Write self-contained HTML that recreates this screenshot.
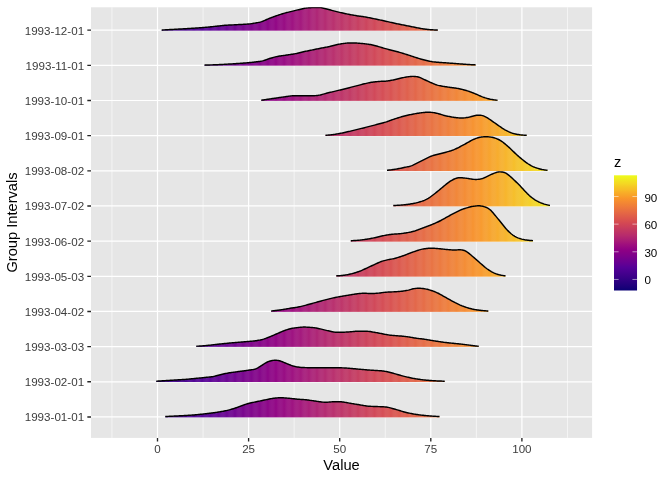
<!DOCTYPE html>
<html lang="en"><head><meta charset="utf-8"><title>Ridgeline plot</title>
<style>html,body{margin:0;padding:0;background:#fff}body{width:672px;height:480px;overflow:hidden}svg{display:block}</style>
</head><body>
<svg width="672" height="480" viewBox="0 0 672 480" font-family="Liberation Sans, Arial, Helvetica, sans-serif">
<defs>
<linearGradient id="gx" gradientUnits="userSpaceOnUse" x1="113.77" y1="0" x2="569.27" y2="0"><stop offset="0.0000" stop-color="#0B0074"/><stop offset="0.0250" stop-color="#180078"/><stop offset="0.0500" stop-color="#22007C"/><stop offset="0.0750" stop-color="#2B0080"/><stop offset="0.1000" stop-color="#340085"/><stop offset="0.1250" stop-color="#3D0089"/><stop offset="0.1500" stop-color="#45008E"/><stop offset="0.1750" stop-color="#4D0093"/><stop offset="0.2000" stop-color="#550097"/><stop offset="0.2250" stop-color="#600094"/><stop offset="0.2500" stop-color="#6A0091"/><stop offset="0.2750" stop-color="#73008D"/><stop offset="0.3000" stop-color="#7D008A"/><stop offset="0.3250" stop-color="#850087"/><stop offset="0.3500" stop-color="#8E0084"/><stop offset="0.3750" stop-color="#960781"/><stop offset="0.4000" stop-color="#9F0F7D"/><stop offset="0.4250" stop-color="#A71978"/><stop offset="0.4500" stop-color="#AE2272"/><stop offset="0.4750" stop-color="#B62A6D"/><stop offset="0.5000" stop-color="#BD3167"/><stop offset="0.5250" stop-color="#C33861"/><stop offset="0.5500" stop-color="#CA3F5B"/><stop offset="0.5750" stop-color="#D14555"/><stop offset="0.6000" stop-color="#D74D50"/><stop offset="0.6250" stop-color="#DC564C"/><stop offset="0.6500" stop-color="#E05F48"/><stop offset="0.6750" stop-color="#E56844"/><stop offset="0.7000" stop-color="#E9713F"/><stop offset="0.7250" stop-color="#EE7A3A"/><stop offset="0.7500" stop-color="#F18335"/><stop offset="0.7750" stop-color="#F58C30"/><stop offset="0.8000" stop-color="#F9952A"/><stop offset="0.8250" stop-color="#F8A229"/><stop offset="0.8500" stop-color="#F8AE28"/><stop offset="0.8750" stop-color="#F7BC26"/><stop offset="0.9000" stop-color="#F5C825"/><stop offset="0.9250" stop-color="#F4D623"/><stop offset="0.9500" stop-color="#F2E221"/><stop offset="0.9750" stop-color="#F0EF1E"/><stop offset="1.0000" stop-color="#EDFC1B"/></linearGradient>
<linearGradient id="gy" gradientUnits="userSpaceOnUse" x1="0" y1="290.5" x2="0" y2="175.3"><stop offset="0.0000" stop-color="#0B0074"/><stop offset="0.0250" stop-color="#180078"/><stop offset="0.0500" stop-color="#22007C"/><stop offset="0.0750" stop-color="#2B0080"/><stop offset="0.1000" stop-color="#340085"/><stop offset="0.1250" stop-color="#3D0089"/><stop offset="0.1500" stop-color="#45008E"/><stop offset="0.1750" stop-color="#4D0093"/><stop offset="0.2000" stop-color="#550097"/><stop offset="0.2250" stop-color="#600094"/><stop offset="0.2500" stop-color="#6A0091"/><stop offset="0.2750" stop-color="#73008D"/><stop offset="0.3000" stop-color="#7D008A"/><stop offset="0.3250" stop-color="#850087"/><stop offset="0.3500" stop-color="#8E0084"/><stop offset="0.3750" stop-color="#960781"/><stop offset="0.4000" stop-color="#9F0F7D"/><stop offset="0.4250" stop-color="#A71978"/><stop offset="0.4500" stop-color="#AE2272"/><stop offset="0.4750" stop-color="#B62A6D"/><stop offset="0.5000" stop-color="#BD3167"/><stop offset="0.5250" stop-color="#C33861"/><stop offset="0.5500" stop-color="#CA3F5B"/><stop offset="0.5750" stop-color="#D14555"/><stop offset="0.6000" stop-color="#D74D50"/><stop offset="0.6250" stop-color="#DC564C"/><stop offset="0.6500" stop-color="#E05F48"/><stop offset="0.6750" stop-color="#E56844"/><stop offset="0.7000" stop-color="#E9713F"/><stop offset="0.7250" stop-color="#EE7A3A"/><stop offset="0.7500" stop-color="#F18335"/><stop offset="0.7750" stop-color="#F58C30"/><stop offset="0.8000" stop-color="#F9952A"/><stop offset="0.8250" stop-color="#F8A229"/><stop offset="0.8500" stop-color="#F8AE28"/><stop offset="0.8750" stop-color="#F7BC26"/><stop offset="0.9000" stop-color="#F5C825"/><stop offset="0.9250" stop-color="#F4D623"/><stop offset="0.9500" stop-color="#F2E221"/><stop offset="0.9750" stop-color="#F0EF1E"/><stop offset="1.0000" stop-color="#EDFC1B"/></linearGradient>
<clipPath id="pc"><rect x="91.0" y="7.3" width="501.10" height="430.60"/></clipPath>
<path id="se" d="M113.772 0h0.8914V480h-0.8914zM115.555 0h0.8914V480h-0.8914zM117.338 0h0.8914V480h-0.8914zM119.120 0h0.8914V480h-0.8914zM120.903 0h0.8914V480h-0.8914zM122.686 0h0.8914V480h-0.8914zM124.469 0h0.8914V480h-0.8914zM126.251 0h0.8914V480h-0.8914zM128.034 0h0.8914V480h-0.8914zM129.817 0h0.8914V480h-0.8914zM131.600 0h0.8914V480h-0.8914zM133.383 0h0.8914V480h-0.8914zM135.165 0h0.8914V480h-0.8914zM136.948 0h0.8914V480h-0.8914zM138.731 0h0.8914V480h-0.8914zM140.514 0h0.8914V480h-0.8914zM142.296 0h0.8914V480h-0.8914zM144.079 0h0.8914V480h-0.8914zM145.862 0h0.8914V480h-0.8914zM147.645 0h0.8914V480h-0.8914zM149.428 0h0.8914V480h-0.8914zM151.210 0h0.8914V480h-0.8914zM152.993 0h0.8914V480h-0.8914zM154.776 0h0.8914V480h-0.8914zM156.559 0h0.8914V480h-0.8914zM158.341 0h0.8914V480h-0.8914zM160.124 0h0.8914V480h-0.8914zM161.907 0h0.8914V480h-0.8914zM163.690 0h0.8914V480h-0.8914zM165.473 0h0.8914V480h-0.8914zM167.255 0h0.8914V480h-0.8914zM169.038 0h0.8914V480h-0.8914zM170.821 0h0.8914V480h-0.8914zM172.604 0h0.8914V480h-0.8914zM174.386 0h0.8914V480h-0.8914zM176.169 0h0.8914V480h-0.8914zM177.952 0h0.8914V480h-0.8914zM179.735 0h0.8914V480h-0.8914zM181.518 0h0.8914V480h-0.8914zM183.300 0h0.8914V480h-0.8914zM185.083 0h0.8914V480h-0.8914zM186.866 0h0.8914V480h-0.8914zM188.649 0h0.8914V480h-0.8914zM190.431 0h0.8914V480h-0.8914zM192.214 0h0.8914V480h-0.8914zM193.997 0h0.8914V480h-0.8914zM195.780 0h0.8914V480h-0.8914zM197.563 0h0.8914V480h-0.8914zM199.345 0h0.8914V480h-0.8914zM201.128 0h0.8914V480h-0.8914zM202.911 0h0.8914V480h-0.8914zM204.694 0h0.8914V480h-0.8914zM206.477 0h0.8914V480h-0.8914zM208.259 0h0.8914V480h-0.8914zM210.042 0h0.8914V480h-0.8914zM211.825 0h0.8914V480h-0.8914zM213.608 0h0.8914V480h-0.8914zM215.390 0h0.8914V480h-0.8914zM217.173 0h0.8914V480h-0.8914zM218.956 0h0.8914V480h-0.8914zM220.739 0h0.8914V480h-0.8914zM222.522 0h0.8914V480h-0.8914zM224.304 0h0.8914V480h-0.8914zM226.087 0h0.8914V480h-0.8914zM227.870 0h0.8914V480h-0.8914zM229.653 0h0.8914V480h-0.8914zM231.435 0h0.8914V480h-0.8914zM233.218 0h0.8914V480h-0.8914zM235.001 0h0.8914V480h-0.8914zM236.784 0h0.8914V480h-0.8914zM238.567 0h0.8914V480h-0.8914zM240.349 0h0.8914V480h-0.8914zM242.132 0h0.8914V480h-0.8914zM243.915 0h0.8914V480h-0.8914zM245.698 0h0.8914V480h-0.8914zM247.480 0h0.8914V480h-0.8914zM249.263 0h0.8914V480h-0.8914zM251.046 0h0.8914V480h-0.8914zM252.829 0h0.8914V480h-0.8914zM254.612 0h0.8914V480h-0.8914zM256.394 0h0.8914V480h-0.8914zM258.177 0h0.8914V480h-0.8914zM259.960 0h0.8914V480h-0.8914zM261.743 0h0.8914V480h-0.8914zM263.525 0h0.8914V480h-0.8914zM265.308 0h0.8914V480h-0.8914zM267.091 0h0.8914V480h-0.8914zM268.874 0h0.8914V480h-0.8914zM270.657 0h0.8914V480h-0.8914zM272.439 0h0.8914V480h-0.8914zM274.222 0h0.8914V480h-0.8914zM276.005 0h0.8914V480h-0.8914zM277.788 0h0.8914V480h-0.8914zM279.570 0h0.8914V480h-0.8914zM281.353 0h0.8914V480h-0.8914zM283.136 0h0.8914V480h-0.8914zM284.919 0h0.8914V480h-0.8914zM286.702 0h0.8914V480h-0.8914zM288.484 0h0.8914V480h-0.8914zM290.267 0h0.8914V480h-0.8914zM292.050 0h0.8914V480h-0.8914zM293.833 0h0.8914V480h-0.8914zM295.615 0h0.8914V480h-0.8914zM297.398 0h0.8914V480h-0.8914zM299.181 0h0.8914V480h-0.8914zM300.964 0h0.8914V480h-0.8914zM302.747 0h0.8914V480h-0.8914zM304.529 0h0.8914V480h-0.8914zM306.312 0h0.8914V480h-0.8914zM308.095 0h0.8914V480h-0.8914zM309.878 0h0.8914V480h-0.8914zM311.660 0h0.8914V480h-0.8914zM313.443 0h0.8914V480h-0.8914zM315.226 0h0.8914V480h-0.8914zM317.009 0h0.8914V480h-0.8914zM318.792 0h0.8914V480h-0.8914zM320.574 0h0.8914V480h-0.8914zM322.357 0h0.8914V480h-0.8914zM324.140 0h0.8914V480h-0.8914zM325.923 0h0.8914V480h-0.8914zM327.705 0h0.8914V480h-0.8914zM329.488 0h0.8914V480h-0.8914zM331.271 0h0.8914V480h-0.8914zM333.054 0h0.8914V480h-0.8914zM334.837 0h0.8914V480h-0.8914zM336.619 0h0.8914V480h-0.8914zM338.402 0h0.8914V480h-0.8914zM340.185 0h0.8914V480h-0.8914zM341.968 0h0.8914V480h-0.8914zM343.750 0h0.8914V480h-0.8914zM345.533 0h0.8914V480h-0.8914zM347.316 0h0.8914V480h-0.8914zM349.099 0h0.8914V480h-0.8914zM350.882 0h0.8914V480h-0.8914zM352.664 0h0.8914V480h-0.8914zM354.447 0h0.8914V480h-0.8914zM356.230 0h0.8914V480h-0.8914zM358.013 0h0.8914V480h-0.8914zM359.795 0h0.8914V480h-0.8914zM361.578 0h0.8914V480h-0.8914zM363.361 0h0.8914V480h-0.8914zM365.144 0h0.8914V480h-0.8914zM366.927 0h0.8914V480h-0.8914zM368.709 0h0.8914V480h-0.8914zM370.492 0h0.8914V480h-0.8914zM372.275 0h0.8914V480h-0.8914zM374.058 0h0.8914V480h-0.8914zM375.840 0h0.8914V480h-0.8914zM377.623 0h0.8914V480h-0.8914zM379.406 0h0.8914V480h-0.8914zM381.189 0h0.8914V480h-0.8914zM382.972 0h0.8914V480h-0.8914zM384.754 0h0.8914V480h-0.8914zM386.537 0h0.8914V480h-0.8914zM388.320 0h0.8914V480h-0.8914zM390.103 0h0.8914V480h-0.8914zM391.886 0h0.8914V480h-0.8914zM393.668 0h0.8914V480h-0.8914zM395.451 0h0.8914V480h-0.8914zM397.234 0h0.8914V480h-0.8914zM399.017 0h0.8914V480h-0.8914zM400.799 0h0.8914V480h-0.8914zM402.582 0h0.8914V480h-0.8914zM404.365 0h0.8914V480h-0.8914zM406.148 0h0.8914V480h-0.8914zM407.931 0h0.8914V480h-0.8914zM409.713 0h0.8914V480h-0.8914zM411.496 0h0.8914V480h-0.8914zM413.279 0h0.8914V480h-0.8914zM415.062 0h0.8914V480h-0.8914zM416.844 0h0.8914V480h-0.8914zM418.627 0h0.8914V480h-0.8914zM420.410 0h0.8914V480h-0.8914zM422.193 0h0.8914V480h-0.8914zM423.976 0h0.8914V480h-0.8914zM425.758 0h0.8914V480h-0.8914zM427.541 0h0.8914V480h-0.8914zM429.324 0h0.8914V480h-0.8914zM431.107 0h0.8914V480h-0.8914zM432.889 0h0.8914V480h-0.8914zM434.672 0h0.8914V480h-0.8914zM436.455 0h0.8914V480h-0.8914zM438.238 0h0.8914V480h-0.8914zM440.021 0h0.8914V480h-0.8914zM441.803 0h0.8914V480h-0.8914zM443.586 0h0.8914V480h-0.8914zM445.369 0h0.8914V480h-0.8914zM447.152 0h0.8914V480h-0.8914zM448.934 0h0.8914V480h-0.8914zM450.717 0h0.8914V480h-0.8914zM452.500 0h0.8914V480h-0.8914zM454.283 0h0.8914V480h-0.8914zM456.066 0h0.8914V480h-0.8914zM457.848 0h0.8914V480h-0.8914zM459.631 0h0.8914V480h-0.8914zM461.414 0h0.8914V480h-0.8914zM463.197 0h0.8914V480h-0.8914zM464.979 0h0.8914V480h-0.8914zM466.762 0h0.8914V480h-0.8914zM468.545 0h0.8914V480h-0.8914zM470.328 0h0.8914V480h-0.8914zM472.111 0h0.8914V480h-0.8914zM473.893 0h0.8914V480h-0.8914zM475.676 0h0.8914V480h-0.8914zM477.459 0h0.8914V480h-0.8914zM479.242 0h0.8914V480h-0.8914zM481.024 0h0.8914V480h-0.8914zM482.807 0h0.8914V480h-0.8914zM484.590 0h0.8914V480h-0.8914zM486.373 0h0.8914V480h-0.8914zM488.156 0h0.8914V480h-0.8914zM489.938 0h0.8914V480h-0.8914zM491.721 0h0.8914V480h-0.8914zM493.504 0h0.8914V480h-0.8914zM495.287 0h0.8914V480h-0.8914zM497.069 0h0.8914V480h-0.8914zM498.852 0h0.8914V480h-0.8914zM500.635 0h0.8914V480h-0.8914zM502.418 0h0.8914V480h-0.8914zM504.201 0h0.8914V480h-0.8914zM505.983 0h0.8914V480h-0.8914zM507.766 0h0.8914V480h-0.8914zM509.549 0h0.8914V480h-0.8914zM511.332 0h0.8914V480h-0.8914zM513.114 0h0.8914V480h-0.8914zM514.897 0h0.8914V480h-0.8914zM516.680 0h0.8914V480h-0.8914zM518.463 0h0.8914V480h-0.8914zM520.246 0h0.8914V480h-0.8914zM522.028 0h0.8914V480h-0.8914zM523.811 0h0.8914V480h-0.8914zM525.594 0h0.8914V480h-0.8914zM527.377 0h0.8914V480h-0.8914zM529.159 0h0.8914V480h-0.8914zM530.942 0h0.8914V480h-0.8914zM532.725 0h0.8914V480h-0.8914zM534.508 0h0.8914V480h-0.8914zM536.291 0h0.8914V480h-0.8914zM538.073 0h0.8914V480h-0.8914zM539.856 0h0.8914V480h-0.8914zM541.639 0h0.8914V480h-0.8914zM543.422 0h0.8914V480h-0.8914zM545.204 0h0.8914V480h-0.8914zM546.987 0h0.8914V480h-0.8914zM548.770 0h0.8914V480h-0.8914zM550.553 0h0.8914V480h-0.8914zM552.336 0h0.8914V480h-0.8914zM554.118 0h0.8914V480h-0.8914zM555.901 0h0.8914V480h-0.8914zM557.684 0h0.8914V480h-0.8914zM559.467 0h0.8914V480h-0.8914zM561.249 0h0.8914V480h-0.8914zM563.032 0h0.8914V480h-0.8914zM564.815 0h0.8914V480h-0.8914zM566.598 0h0.8914V480h-0.8914zM568.381 0h0.8914V480h-0.8914z"/>
<path id="so" d="M114.663 0h0.8914V480h-0.8914zM116.446 0h0.8914V480h-0.8914zM118.229 0h0.8914V480h-0.8914zM120.012 0h0.8914V480h-0.8914zM121.795 0h0.8914V480h-0.8914zM123.577 0h0.8914V480h-0.8914zM125.360 0h0.8914V480h-0.8914zM127.143 0h0.8914V480h-0.8914zM128.926 0h0.8914V480h-0.8914zM130.708 0h0.8914V480h-0.8914zM132.491 0h0.8914V480h-0.8914zM134.274 0h0.8914V480h-0.8914zM136.057 0h0.8914V480h-0.8914zM137.840 0h0.8914V480h-0.8914zM139.622 0h0.8914V480h-0.8914zM141.405 0h0.8914V480h-0.8914zM143.188 0h0.8914V480h-0.8914zM144.971 0h0.8914V480h-0.8914zM146.753 0h0.8914V480h-0.8914zM148.536 0h0.8914V480h-0.8914zM150.319 0h0.8914V480h-0.8914zM152.102 0h0.8914V480h-0.8914zM153.885 0h0.8914V480h-0.8914zM155.667 0h0.8914V480h-0.8914zM157.450 0h0.8914V480h-0.8914zM159.233 0h0.8914V480h-0.8914zM161.016 0h0.8914V480h-0.8914zM162.798 0h0.8914V480h-0.8914zM164.581 0h0.8914V480h-0.8914zM166.364 0h0.8914V480h-0.8914zM168.147 0h0.8914V480h-0.8914zM169.930 0h0.8914V480h-0.8914zM171.712 0h0.8914V480h-0.8914zM173.495 0h0.8914V480h-0.8914zM175.278 0h0.8914V480h-0.8914zM177.061 0h0.8914V480h-0.8914zM178.843 0h0.8914V480h-0.8914zM180.626 0h0.8914V480h-0.8914zM182.409 0h0.8914V480h-0.8914zM184.192 0h0.8914V480h-0.8914zM185.975 0h0.8914V480h-0.8914zM187.757 0h0.8914V480h-0.8914zM189.540 0h0.8914V480h-0.8914zM191.323 0h0.8914V480h-0.8914zM193.106 0h0.8914V480h-0.8914zM194.888 0h0.8914V480h-0.8914zM196.671 0h0.8914V480h-0.8914zM198.454 0h0.8914V480h-0.8914zM200.237 0h0.8914V480h-0.8914zM202.020 0h0.8914V480h-0.8914zM203.802 0h0.8914V480h-0.8914zM205.585 0h0.8914V480h-0.8914zM207.368 0h0.8914V480h-0.8914zM209.151 0h0.8914V480h-0.8914zM210.933 0h0.8914V480h-0.8914zM212.716 0h0.8914V480h-0.8914zM214.499 0h0.8914V480h-0.8914zM216.282 0h0.8914V480h-0.8914zM218.065 0h0.8914V480h-0.8914zM219.847 0h0.8914V480h-0.8914zM221.630 0h0.8914V480h-0.8914zM223.413 0h0.8914V480h-0.8914zM225.196 0h0.8914V480h-0.8914zM226.978 0h0.8914V480h-0.8914zM228.761 0h0.8914V480h-0.8914zM230.544 0h0.8914V480h-0.8914zM232.327 0h0.8914V480h-0.8914zM234.110 0h0.8914V480h-0.8914zM235.892 0h0.8914V480h-0.8914zM237.675 0h0.8914V480h-0.8914zM239.458 0h0.8914V480h-0.8914zM241.241 0h0.8914V480h-0.8914zM243.023 0h0.8914V480h-0.8914zM244.806 0h0.8914V480h-0.8914zM246.589 0h0.8914V480h-0.8914zM248.372 0h0.8914V480h-0.8914zM250.155 0h0.8914V480h-0.8914zM251.937 0h0.8914V480h-0.8914zM253.720 0h0.8914V480h-0.8914zM255.503 0h0.8914V480h-0.8914zM257.286 0h0.8914V480h-0.8914zM259.068 0h0.8914V480h-0.8914zM260.851 0h0.8914V480h-0.8914zM262.634 0h0.8914V480h-0.8914zM264.417 0h0.8914V480h-0.8914zM266.200 0h0.8914V480h-0.8914zM267.982 0h0.8914V480h-0.8914zM269.765 0h0.8914V480h-0.8914zM271.548 0h0.8914V480h-0.8914zM273.331 0h0.8914V480h-0.8914zM275.113 0h0.8914V480h-0.8914zM276.896 0h0.8914V480h-0.8914zM278.679 0h0.8914V480h-0.8914zM280.462 0h0.8914V480h-0.8914zM282.245 0h0.8914V480h-0.8914zM284.027 0h0.8914V480h-0.8914zM285.810 0h0.8914V480h-0.8914zM287.593 0h0.8914V480h-0.8914zM289.376 0h0.8914V480h-0.8914zM291.158 0h0.8914V480h-0.8914zM292.941 0h0.8914V480h-0.8914zM294.724 0h0.8914V480h-0.8914zM296.507 0h0.8914V480h-0.8914zM298.290 0h0.8914V480h-0.8914zM300.072 0h0.8914V480h-0.8914zM301.855 0h0.8914V480h-0.8914zM303.638 0h0.8914V480h-0.8914zM305.421 0h0.8914V480h-0.8914zM307.204 0h0.8914V480h-0.8914zM308.986 0h0.8914V480h-0.8914zM310.769 0h0.8914V480h-0.8914zM312.552 0h0.8914V480h-0.8914zM314.335 0h0.8914V480h-0.8914zM316.117 0h0.8914V480h-0.8914zM317.900 0h0.8914V480h-0.8914zM319.683 0h0.8914V480h-0.8914zM321.466 0h0.8914V480h-0.8914zM323.249 0h0.8914V480h-0.8914zM325.031 0h0.8914V480h-0.8914zM326.814 0h0.8914V480h-0.8914zM328.597 0h0.8914V480h-0.8914zM330.380 0h0.8914V480h-0.8914zM332.162 0h0.8914V480h-0.8914zM333.945 0h0.8914V480h-0.8914zM335.728 0h0.8914V480h-0.8914zM337.511 0h0.8914V480h-0.8914zM339.294 0h0.8914V480h-0.8914zM341.076 0h0.8914V480h-0.8914zM342.859 0h0.8914V480h-0.8914zM344.642 0h0.8914V480h-0.8914zM346.425 0h0.8914V480h-0.8914zM348.207 0h0.8914V480h-0.8914zM349.990 0h0.8914V480h-0.8914zM351.773 0h0.8914V480h-0.8914zM353.556 0h0.8914V480h-0.8914zM355.339 0h0.8914V480h-0.8914zM357.121 0h0.8914V480h-0.8914zM358.904 0h0.8914V480h-0.8914zM360.687 0h0.8914V480h-0.8914zM362.470 0h0.8914V480h-0.8914zM364.252 0h0.8914V480h-0.8914zM366.035 0h0.8914V480h-0.8914zM367.818 0h0.8914V480h-0.8914zM369.601 0h0.8914V480h-0.8914zM371.384 0h0.8914V480h-0.8914zM373.166 0h0.8914V480h-0.8914zM374.949 0h0.8914V480h-0.8914zM376.732 0h0.8914V480h-0.8914zM378.515 0h0.8914V480h-0.8914zM380.297 0h0.8914V480h-0.8914zM382.080 0h0.8914V480h-0.8914zM383.863 0h0.8914V480h-0.8914zM385.646 0h0.8914V480h-0.8914zM387.429 0h0.8914V480h-0.8914zM389.211 0h0.8914V480h-0.8914zM390.994 0h0.8914V480h-0.8914zM392.777 0h0.8914V480h-0.8914zM394.560 0h0.8914V480h-0.8914zM396.342 0h0.8914V480h-0.8914zM398.125 0h0.8914V480h-0.8914zM399.908 0h0.8914V480h-0.8914zM401.691 0h0.8914V480h-0.8914zM403.474 0h0.8914V480h-0.8914zM405.256 0h0.8914V480h-0.8914zM407.039 0h0.8914V480h-0.8914zM408.822 0h0.8914V480h-0.8914zM410.605 0h0.8914V480h-0.8914zM412.387 0h0.8914V480h-0.8914zM414.170 0h0.8914V480h-0.8914zM415.953 0h0.8914V480h-0.8914zM417.736 0h0.8914V480h-0.8914zM419.519 0h0.8914V480h-0.8914zM421.301 0h0.8914V480h-0.8914zM423.084 0h0.8914V480h-0.8914zM424.867 0h0.8914V480h-0.8914zM426.650 0h0.8914V480h-0.8914zM428.432 0h0.8914V480h-0.8914zM430.215 0h0.8914V480h-0.8914zM431.998 0h0.8914V480h-0.8914zM433.781 0h0.8914V480h-0.8914zM435.564 0h0.8914V480h-0.8914zM437.346 0h0.8914V480h-0.8914zM439.129 0h0.8914V480h-0.8914zM440.912 0h0.8914V480h-0.8914zM442.695 0h0.8914V480h-0.8914zM444.477 0h0.8914V480h-0.8914zM446.260 0h0.8914V480h-0.8914zM448.043 0h0.8914V480h-0.8914zM449.826 0h0.8914V480h-0.8914zM451.609 0h0.8914V480h-0.8914zM453.391 0h0.8914V480h-0.8914zM455.174 0h0.8914V480h-0.8914zM456.957 0h0.8914V480h-0.8914zM458.740 0h0.8914V480h-0.8914zM460.522 0h0.8914V480h-0.8914zM462.305 0h0.8914V480h-0.8914zM464.088 0h0.8914V480h-0.8914zM465.871 0h0.8914V480h-0.8914zM467.654 0h0.8914V480h-0.8914zM469.436 0h0.8914V480h-0.8914zM471.219 0h0.8914V480h-0.8914zM473.002 0h0.8914V480h-0.8914zM474.785 0h0.8914V480h-0.8914zM476.567 0h0.8914V480h-0.8914zM478.350 0h0.8914V480h-0.8914zM480.133 0h0.8914V480h-0.8914zM481.916 0h0.8914V480h-0.8914zM483.699 0h0.8914V480h-0.8914zM485.481 0h0.8914V480h-0.8914zM487.264 0h0.8914V480h-0.8914zM489.047 0h0.8914V480h-0.8914zM490.830 0h0.8914V480h-0.8914zM492.613 0h0.8914V480h-0.8914zM494.395 0h0.8914V480h-0.8914zM496.178 0h0.8914V480h-0.8914zM497.961 0h0.8914V480h-0.8914zM499.744 0h0.8914V480h-0.8914zM501.526 0h0.8914V480h-0.8914zM503.309 0h0.8914V480h-0.8914zM505.092 0h0.8914V480h-0.8914zM506.875 0h0.8914V480h-0.8914zM508.658 0h0.8914V480h-0.8914zM510.440 0h0.8914V480h-0.8914zM512.223 0h0.8914V480h-0.8914zM514.006 0h0.8914V480h-0.8914zM515.789 0h0.8914V480h-0.8914zM517.571 0h0.8914V480h-0.8914zM519.354 0h0.8914V480h-0.8914zM521.137 0h0.8914V480h-0.8914zM522.920 0h0.8914V480h-0.8914zM524.703 0h0.8914V480h-0.8914zM526.485 0h0.8914V480h-0.8914zM528.268 0h0.8914V480h-0.8914zM530.051 0h0.8914V480h-0.8914zM531.834 0h0.8914V480h-0.8914zM533.616 0h0.8914V480h-0.8914zM535.399 0h0.8914V480h-0.8914zM537.182 0h0.8914V480h-0.8914zM538.965 0h0.8914V480h-0.8914zM540.748 0h0.8914V480h-0.8914zM542.530 0h0.8914V480h-0.8914zM544.313 0h0.8914V480h-0.8914zM546.096 0h0.8914V480h-0.8914zM547.879 0h0.8914V480h-0.8914zM549.661 0h0.8914V480h-0.8914zM551.444 0h0.8914V480h-0.8914zM553.227 0h0.8914V480h-0.8914zM555.010 0h0.8914V480h-0.8914zM556.793 0h0.8914V480h-0.8914zM558.575 0h0.8914V480h-0.8914zM560.358 0h0.8914V480h-0.8914zM562.141 0h0.8914V480h-0.8914zM563.924 0h0.8914V480h-0.8914zM565.706 0h0.8914V480h-0.8914zM567.489 0h0.8914V480h-0.8914z"/>
<clipPath id="c0"><path d="M161.7 30.00L162.7 29.95L163.7 29.90L164.7 29.85L165.7 29.80L166.7 29.75L167.7 29.70L168.7 29.64L169.7 29.59L170.7 29.54L171.7 29.48L172.7 29.43L173.7 29.37L174.7 29.32L175.7 29.26L176.7 29.20L177.7 29.15L178.7 29.09L179.7 29.03L180.7 28.97L181.7 28.91L182.7 28.85L183.7 28.79L184.7 28.73L185.7 28.67L186.7 28.61L187.7 28.55L188.7 28.49L189.7 28.42L190.7 28.36L191.7 28.30L192.7 28.24L193.7 28.18L194.7 28.11L195.7 28.05L196.7 27.98L197.7 27.91L198.7 27.85L199.7 27.78L200.7 27.70L201.7 27.63L202.7 27.55L203.7 27.47L204.7 27.38L205.7 27.29L206.7 27.20L207.7 27.11L208.7 27.01L209.7 26.91L210.7 26.81L211.7 26.71L212.7 26.61L213.7 26.51L214.7 26.40L215.7 26.30L216.7 26.20L217.7 26.09L218.7 25.98L219.7 25.86L220.7 25.74L221.7 25.63L222.7 25.51L223.7 25.41L224.7 25.32L225.7 25.25L226.7 25.18L227.7 25.12L228.7 25.07L229.7 25.02L230.7 24.98L231.7 24.93L232.7 24.89L233.7 24.85L234.7 24.80L235.7 24.75L236.7 24.70L237.7 24.64L238.7 24.59L239.7 24.53L240.7 24.47L241.7 24.42L242.7 24.36L243.7 24.29L244.7 24.23L245.7 24.17L246.7 24.11L247.7 24.04L248.7 23.97L249.7 23.88L250.7 23.77L251.7 23.63L252.7 23.48L253.7 23.32L254.7 23.15L255.7 22.98L256.7 22.80L257.7 22.62L258.7 22.41L259.7 22.18L260.7 21.92L261.7 21.60L262.7 21.24L263.7 20.84L264.7 20.42L265.7 19.97L266.7 19.52L267.7 19.07L268.7 18.64L269.7 18.23L270.7 17.85L271.7 17.48L272.7 17.11L273.7 16.74L274.7 16.38L275.7 16.02L276.7 15.68L277.7 15.33L278.7 15.00L279.7 14.67L280.7 14.35L281.7 14.02L282.7 13.71L283.7 13.40L284.7 13.11L285.7 12.83L286.7 12.57L287.7 12.33L288.7 12.09L289.7 11.85L290.7 11.60L291.7 11.36L292.7 11.12L293.7 10.88L294.7 10.64L295.7 10.40L296.7 10.16L297.7 9.92L298.7 9.68L299.7 9.45L300.7 9.21L301.7 8.97L302.7 8.73L303.7 8.50L304.7 8.29L305.7 8.13L306.7 8.00L307.7 7.90L308.7 7.82L309.7 7.74L310.7 7.67L311.7 7.61L312.7 7.57L313.7 7.53L314.7 7.51L315.7 7.49L316.7 7.47L317.7 7.45L318.7 7.46L319.7 7.50L320.7 7.59L321.7 7.74L322.7 7.96L323.7 8.19L324.7 8.44L325.7 8.70L326.7 8.96L327.7 9.23L328.7 9.50L329.7 9.77L330.7 10.05L331.7 10.33L332.7 10.60L333.7 10.88L334.7 11.14L335.7 11.40L336.7 11.65L337.7 11.90L338.7 12.13L339.7 12.36L340.7 12.59L341.7 12.82L342.7 13.04L343.7 13.26L344.7 13.47L345.7 13.68L346.7 13.89L347.7 14.10L348.7 14.30L349.7 14.50L350.7 14.69L351.7 14.88L352.7 15.06L353.7 15.24L354.7 15.41L355.7 15.58L356.7 15.75L357.7 15.91L358.7 16.06L359.7 16.20L360.7 16.33L361.7 16.46L362.7 16.59L363.7 16.74L364.7 16.90L365.7 17.07L366.7 17.25L367.7 17.44L368.7 17.63L369.7 17.82L370.7 18.02L371.7 18.22L372.7 18.43L373.7 18.64L374.7 18.85L375.7 19.06L376.7 19.27L377.7 19.48L378.7 19.69L379.7 19.91L380.7 20.12L381.7 20.33L382.7 20.55L383.7 20.77L384.7 20.98L385.7 21.20L386.7 21.42L387.7 21.65L388.7 21.88L389.7 22.11L390.7 22.34L391.7 22.57L392.7 22.80L393.7 23.03L394.7 23.25L395.7 23.47L396.7 23.68L397.7 23.88L398.7 24.08L399.7 24.28L400.7 24.48L401.7 24.68L402.7 24.88L403.7 25.08L404.7 25.28L405.7 25.48L406.7 25.68L407.7 25.88L408.7 26.08L409.7 26.28L410.7 26.48L411.7 26.68L412.7 26.88L413.7 27.08L414.7 27.28L415.7 27.48L416.7 27.68L417.7 27.88L418.7 28.07L419.7 28.25L420.7 28.43L421.7 28.60L422.7 28.76L423.7 28.91L424.7 29.06L425.7 29.20L426.7 29.33L427.7 29.44L428.7 29.54L429.7 29.62L430.7 29.70L431.7 29.76L432.7 29.82L433.7 29.88L434.7 29.92L435.7 29.96L436.7 29.98L437.7 30.00L437.8 30.00L437.8 30.40L161.7 30.40Z"/></clipPath>
<clipPath id="c1"><path d="M204.5 65.00L205.5 64.99L206.5 64.98L207.5 64.96L208.5 64.94L209.5 64.92L210.5 64.90L211.5 64.88L212.5 64.85L213.5 64.82L214.5 64.79L215.5 64.75L216.5 64.71L217.5 64.67L218.5 64.62L219.5 64.57L220.5 64.53L221.5 64.48L222.5 64.43L223.5 64.37L224.5 64.32L225.5 64.27L226.5 64.21L227.5 64.15L228.5 64.09L229.5 64.03L230.5 63.97L231.5 63.91L232.5 63.85L233.5 63.79L234.5 63.72L235.5 63.66L236.5 63.59L237.5 63.52L238.5 63.45L239.5 63.38L240.5 63.31L241.5 63.24L242.5 63.16L243.5 63.09L244.5 63.01L245.5 62.93L246.5 62.85L247.5 62.77L248.5 62.68L249.5 62.59L250.5 62.50L251.5 62.39L252.5 62.28L253.5 62.17L254.5 62.05L255.5 61.94L256.5 61.82L257.5 61.71L258.5 61.58L259.5 61.44L260.5 61.29L261.5 61.10L262.5 60.88L263.5 60.61L264.5 60.30L265.5 59.95L266.5 59.59L267.5 59.22L268.5 58.87L269.5 58.54L270.5 58.24L271.5 57.96L272.5 57.68L273.5 57.40L274.5 57.12L275.5 56.87L276.5 56.63L277.5 56.42L278.5 56.23L279.5 56.08L280.5 55.93L281.5 55.78L282.5 55.64L283.5 55.50L284.5 55.36L285.5 55.22L286.5 55.07L287.5 54.92L288.5 54.78L289.5 54.63L290.5 54.48L291.5 54.32L292.5 54.17L293.5 54.01L294.5 53.84L295.5 53.66L296.5 53.46L297.5 53.23L298.5 52.99L299.5 52.73L300.5 52.47L301.5 52.21L302.5 51.97L303.5 51.74L304.5 51.54L305.5 51.33L306.5 51.13L307.5 50.92L308.5 50.72L309.5 50.51L310.5 50.31L311.5 50.10L312.5 49.90L313.5 49.69L314.5 49.49L315.5 49.28L316.5 49.08L317.5 48.87L318.5 48.67L319.5 48.46L320.5 48.26L321.5 48.06L322.5 47.87L323.5 47.68L324.5 47.50L325.5 47.31L326.5 47.13L327.5 46.94L328.5 46.74L329.5 46.53L330.5 46.28L331.5 46.01L332.5 45.73L333.5 45.46L334.5 45.19L335.5 44.95L336.5 44.73L337.5 44.52L338.5 44.32L339.5 44.13L340.5 43.95L341.5 43.78L342.5 43.62L343.5 43.48L344.5 43.35L345.5 43.24L346.5 43.15L347.5 43.07L348.5 43.01L349.5 42.97L350.5 42.94L351.5 42.92L352.5 42.92L353.5 42.93L354.5 42.96L355.5 43.01L356.5 43.07L357.5 43.13L358.5 43.20L359.5 43.28L360.5 43.36L361.5 43.45L362.5 43.55L363.5 43.65L364.5 43.76L365.5 43.88L366.5 44.01L367.5 44.14L368.5 44.27L369.5 44.42L370.5 44.57L371.5 44.75L372.5 44.95L373.5 45.18L374.5 45.43L375.5 45.70L376.5 45.99L377.5 46.28L378.5 46.58L379.5 46.88L380.5 47.18L381.5 47.49L382.5 47.79L383.5 48.08L384.5 48.37L385.5 48.65L386.5 48.91L387.5 49.17L388.5 49.43L389.5 49.68L390.5 49.93L391.5 50.18L392.5 50.43L393.5 50.69L394.5 50.95L395.5 51.21L396.5 51.48L397.5 51.76L398.5 52.04L399.5 52.33L400.5 52.62L401.5 52.92L402.5 53.22L403.5 53.52L404.5 53.83L405.5 54.14L406.5 54.45L407.5 54.76L408.5 55.08L409.5 55.41L410.5 55.74L411.5 56.08L412.5 56.42L413.5 56.76L414.5 57.09L415.5 57.42L416.5 57.75L417.5 58.06L418.5 58.36L419.5 58.66L420.5 58.94L421.5 59.21L422.5 59.48L423.5 59.74L424.5 59.99L425.5 60.25L426.5 60.50L427.5 60.75L428.5 60.99L429.5 61.21L430.5 61.41L431.5 61.58L432.5 61.73L433.5 61.85L434.5 61.96L435.5 62.07L436.5 62.16L437.5 62.25L438.5 62.33L439.5 62.41L440.5 62.49L441.5 62.56L442.5 62.63L443.5 62.69L444.5 62.76L445.5 62.83L446.5 62.90L447.5 62.96L448.5 63.03L449.5 63.10L450.5 63.17L451.5 63.24L452.5 63.31L453.5 63.39L454.5 63.47L455.5 63.54L456.5 63.62L457.5 63.70L458.5 63.78L459.5 63.86L460.5 63.94L461.5 64.01L462.5 64.09L463.5 64.16L464.5 64.24L465.5 64.30L466.5 64.37L467.5 64.44L468.5 64.50L469.5 64.56L470.5 64.62L471.5 64.67L472.5 64.73L473.5 64.78L474.5 64.84L475.5 64.89L475.7 64.90L475.7 65.56L204.5 65.56Z"/></clipPath>
<clipPath id="c2"><path d="M261.3 100.20L262.3 100.05L263.3 99.91L264.3 99.76L265.3 99.62L266.3 99.47L267.3 99.32L268.3 99.18L269.3 99.03L270.3 98.89L271.3 98.74L272.3 98.59L273.3 98.45L274.3 98.30L275.3 98.16L276.3 98.01L277.3 97.86L278.3 97.72L279.3 97.57L280.3 97.43L281.3 97.28L282.3 97.14L283.3 96.99L284.3 96.85L285.3 96.70L286.3 96.56L287.3 96.41L288.3 96.27L289.3 96.14L290.3 96.01L291.3 95.90L292.3 95.81L293.3 95.75L294.3 95.71L295.3 95.70L296.3 95.70L297.3 95.70L298.3 95.70L299.3 95.70L300.3 95.70L301.3 95.70L302.3 95.70L303.3 95.70L304.3 95.70L305.3 95.70L306.3 95.70L307.3 95.70L308.3 95.70L309.3 95.70L310.3 95.70L311.3 95.70L312.3 95.70L313.3 95.70L314.3 95.69L315.3 95.65L316.3 95.58L317.3 95.47L318.3 95.33L319.3 95.15L320.3 94.93L321.3 94.68L322.3 94.42L323.3 94.14L324.3 93.87L325.3 93.59L326.3 93.31L327.3 93.05L328.3 92.80L329.3 92.56L330.3 92.32L331.3 92.08L332.3 91.85L333.3 91.61L334.3 91.37L335.3 91.14L336.3 90.90L337.3 90.66L338.3 90.42L339.3 90.17L340.3 89.93L341.3 89.68L342.3 89.43L343.3 89.18L344.3 88.93L345.3 88.68L346.3 88.43L347.3 88.18L348.3 87.93L349.3 87.68L350.3 87.42L351.3 87.17L352.3 86.91L353.3 86.66L354.3 86.40L355.3 86.14L356.3 85.88L357.3 85.62L358.3 85.36L359.3 85.10L360.3 84.84L361.3 84.58L362.3 84.32L363.3 84.07L364.3 83.82L365.3 83.58L366.3 83.35L367.3 83.12L368.3 82.91L369.3 82.70L370.3 82.50L371.3 82.32L372.3 82.17L373.3 82.03L374.3 81.92L375.3 81.81L376.3 81.72L377.3 81.63L378.3 81.54L379.3 81.45L380.3 81.39L381.3 81.34L382.3 81.30L383.3 81.26L384.3 81.22L385.3 81.16L386.3 81.08L387.3 80.96L388.3 80.83L389.3 80.67L390.3 80.50L391.3 80.32L392.3 80.12L393.3 79.92L394.3 79.71L395.3 79.50L396.3 79.28L397.3 79.04L398.3 78.80L399.3 78.55L400.3 78.30L401.3 78.05L402.3 77.81L403.3 77.59L404.3 77.38L405.3 77.19L406.3 77.02L407.3 76.87L408.3 76.74L409.3 76.61L410.3 76.50L411.3 76.41L412.3 76.37L413.3 76.38L414.3 76.42L415.3 76.50L416.3 76.62L417.3 76.78L418.3 77.00L419.3 77.30L420.3 77.70L421.3 78.15L422.3 78.62L423.3 79.08L424.3 79.55L425.3 80.02L426.3 80.48L427.3 80.94L428.3 81.39L429.3 81.84L430.3 82.29L431.3 82.74L432.3 83.19L433.3 83.63L434.3 84.05L435.3 84.44L436.3 84.78L437.3 85.09L438.3 85.36L439.3 85.59L440.3 85.80L441.3 85.99L442.3 86.17L443.3 86.35L444.3 86.52L445.3 86.68L446.3 86.84L447.3 86.99L448.3 87.14L449.3 87.29L450.3 87.42L451.3 87.55L452.3 87.67L453.3 87.79L454.3 87.92L455.3 88.05L456.3 88.19L457.3 88.35L458.3 88.53L459.3 88.72L460.3 88.94L461.3 89.17L462.3 89.42L463.3 89.68L464.3 89.95L465.3 90.23L466.3 90.52L467.3 90.83L468.3 91.16L469.3 91.51L470.3 91.87L471.3 92.24L472.3 92.62L473.3 93.01L474.3 93.40L475.3 93.80L476.3 94.21L477.3 94.65L478.3 95.10L479.3 95.55L480.3 95.99L481.3 96.42L482.3 96.82L483.3 97.19L484.3 97.53L485.3 97.86L486.3 98.15L487.3 98.44L488.3 98.70L489.3 98.95L490.3 99.18L491.3 99.38L492.3 99.57L493.3 99.74L494.3 99.89L495.3 100.01L496.3 100.11L497.3 100.19L497.5 100.20L497.5 100.73L261.3 100.73Z"/></clipPath>
<clipPath id="c3"><path d="M325.5 135.30L326.5 135.22L327.5 135.14L328.5 135.05L329.5 134.96L330.5 134.85L331.5 134.74L332.5 134.62L333.5 134.49L334.5 134.35L335.5 134.20L336.5 134.03L337.5 133.86L338.5 133.68L339.5 133.50L340.5 133.32L341.5 133.12L342.5 132.92L343.5 132.72L344.5 132.50L345.5 132.28L346.5 132.05L347.5 131.81L348.5 131.57L349.5 131.33L350.5 131.09L351.5 130.85L352.5 130.60L353.5 130.36L354.5 130.12L355.5 129.88L356.5 129.64L357.5 129.39L358.5 129.15L359.5 128.91L360.5 128.67L361.5 128.42L362.5 128.18L363.5 127.93L364.5 127.68L365.5 127.42L366.5 127.17L367.5 126.91L368.5 126.65L369.5 126.39L370.5 126.13L371.5 125.87L372.5 125.61L373.5 125.35L374.5 125.09L375.5 124.83L376.5 124.57L377.5 124.31L378.5 124.05L379.5 123.78L380.5 123.51L381.5 123.25L382.5 122.97L383.5 122.70L384.5 122.42L385.5 122.14L386.5 121.84L387.5 121.51L388.5 121.16L389.5 120.80L390.5 120.42L391.5 120.05L392.5 119.68L393.5 119.31L394.5 118.96L395.5 118.64L396.5 118.32L397.5 118.01L398.5 117.70L399.5 117.40L400.5 117.11L401.5 116.82L402.5 116.54L403.5 116.27L404.5 116.00L405.5 115.75L406.5 115.51L407.5 115.27L408.5 115.05L409.5 114.83L410.5 114.62L411.5 114.42L412.5 114.22L413.5 114.03L414.5 113.85L415.5 113.66L416.5 113.49L417.5 113.33L418.5 113.17L419.5 113.03L420.5 112.89L421.5 112.76L422.5 112.64L423.5 112.52L424.5 112.42L425.5 112.34L426.5 112.28L427.5 112.25L428.5 112.25L429.5 112.27L430.5 112.31L431.5 112.38L432.5 112.49L433.5 112.62L434.5 112.78L435.5 112.97L436.5 113.18L437.5 113.42L438.5 113.70L439.5 113.99L440.5 114.30L441.5 114.62L442.5 114.93L443.5 115.23L444.5 115.50L445.5 115.75L446.5 115.97L447.5 116.18L448.5 116.39L449.5 116.58L450.5 116.77L451.5 116.94L452.5 117.11L453.5 117.27L454.5 117.42L455.5 117.56L456.5 117.68L457.5 117.78L458.5 117.87L459.5 117.93L460.5 117.98L461.5 118.00L462.5 117.99L463.5 117.94L464.5 117.86L465.5 117.74L466.5 117.59L467.5 117.42L468.5 117.24L469.5 117.03L470.5 116.78L471.5 116.50L472.5 116.21L473.5 115.93L474.5 115.67L475.5 115.46L476.5 115.32L477.5 115.23L478.5 115.20L479.5 115.20L480.5 115.25L481.5 115.38L482.5 115.60L483.5 115.92L484.5 116.34L485.5 116.81L486.5 117.33L487.5 117.92L488.5 118.56L489.5 119.26L490.5 119.95L491.5 120.65L492.5 121.34L493.5 122.04L494.5 122.74L495.5 123.44L496.5 124.14L497.5 124.84L498.5 125.55L499.5 126.25L500.5 126.95L501.5 127.65L502.5 128.34L503.5 128.98L504.5 129.58L505.5 130.13L506.5 130.64L507.5 131.13L508.5 131.61L509.5 132.06L510.5 132.49L511.5 132.88L512.5 133.23L513.5 133.55L514.5 133.82L515.5 134.04L516.5 134.24L517.5 134.42L518.5 134.58L519.5 134.72L520.5 134.85L521.5 134.95L522.5 135.04L523.5 135.13L524.5 135.20L525.5 135.26L526.5 135.30L526.7 135.30L526.7 135.89L325.5 135.89Z"/></clipPath>
<clipPath id="c4"><path d="M387.0 170.30L388.0 170.20L389.0 170.09L390.0 169.97L391.0 169.85L392.0 169.72L393.0 169.58L394.0 169.43L395.0 169.28L396.0 169.12L397.0 168.95L398.0 168.77L399.0 168.58L400.0 168.38L401.0 168.17L402.0 167.96L403.0 167.74L404.0 167.52L405.0 167.30L406.0 167.09L407.0 166.88L408.0 166.68L409.0 166.46L410.0 166.20L411.0 165.91L412.0 165.56L413.0 165.14L414.0 164.66L415.0 164.17L416.0 163.67L417.0 163.17L418.0 162.66L419.0 162.16L420.0 161.65L421.0 161.15L422.0 160.65L423.0 160.15L424.0 159.65L425.0 159.15L426.0 158.65L427.0 158.15L428.0 157.66L429.0 157.17L430.0 156.70L431.0 156.27L432.0 155.89L433.0 155.57L434.0 155.29L435.0 155.03L436.0 154.78L437.0 154.54L438.0 154.28L439.0 154.01L440.0 153.75L441.0 153.49L442.0 153.23L443.0 152.98L444.0 152.72L445.0 152.46L446.0 152.19L447.0 151.92L448.0 151.63L449.0 151.34L450.0 151.04L451.0 150.72L452.0 150.37L453.0 150.01L454.0 149.62L455.0 149.20L456.0 148.75L457.0 148.28L458.0 147.79L459.0 147.28L460.0 146.76L461.0 146.23L462.0 145.70L463.0 145.16L464.0 144.62L465.0 144.07L466.0 143.50L467.0 142.93L468.0 142.36L469.0 141.79L470.0 141.24L471.0 140.69L472.0 140.18L473.0 139.69L474.0 139.24L475.0 138.82L476.0 138.43L477.0 138.07L478.0 137.74L479.0 137.47L480.0 137.26L481.0 137.09L482.0 136.96L483.0 136.87L484.0 136.80L485.0 136.76L486.0 136.75L487.0 136.77L488.0 136.82L489.0 136.89L490.0 137.00L491.0 137.14L492.0 137.32L493.0 137.53L494.0 137.79L495.0 138.09L496.0 138.44L497.0 138.82L498.0 139.25L499.0 139.73L500.0 140.26L501.0 140.86L502.0 141.52L503.0 142.26L504.0 143.07L505.0 143.89L506.0 144.73L507.0 145.60L508.0 146.48L509.0 147.38L510.0 148.30L511.0 149.24L512.0 150.20L513.0 151.17L514.0 152.14L515.0 153.11L516.0 154.05L517.0 154.97L518.0 155.87L519.0 156.74L520.0 157.59L521.0 158.43L522.0 159.25L523.0 160.06L524.0 160.86L525.0 161.63L526.0 162.37L527.0 163.07L528.0 163.75L529.0 164.39L530.0 165.00L531.0 165.57L532.0 166.09L533.0 166.57L534.0 167.01L535.0 167.41L536.0 167.77L537.0 168.09L538.0 168.40L539.0 168.69L540.0 168.96L541.0 169.21L542.0 169.44L543.0 169.64L544.0 169.83L545.0 169.99L546.0 170.14L547.0 170.25L547.5 170.30L547.5 171.05L387.0 171.05Z"/></clipPath>
<clipPath id="c5"><path d="M393.3 205.50L394.3 205.47L395.3 205.42L396.3 205.38L397.3 205.32L398.3 205.26L399.3 205.19L400.3 205.11L401.3 205.04L402.3 204.95L403.3 204.86L404.3 204.77L405.3 204.67L406.3 204.56L407.3 204.44L408.3 204.30L409.3 204.16L410.3 204.00L411.3 203.84L412.3 203.67L413.3 203.50L414.3 203.31L415.3 203.10L416.3 202.87L417.3 202.62L418.3 202.35L419.3 202.06L420.3 201.75L421.3 201.43L422.3 201.10L423.3 200.73L424.3 200.34L425.3 199.90L426.3 199.43L427.3 198.90L428.3 198.32L429.3 197.68L430.3 196.99L431.3 196.26L432.3 195.51L433.3 194.76L434.3 193.98L435.3 193.20L436.3 192.41L437.3 191.61L438.3 190.80L439.3 189.98L440.3 189.15L441.3 188.31L442.3 187.47L443.3 186.62L444.3 185.78L445.3 184.95L446.3 184.12L447.3 183.33L448.3 182.58L449.3 181.88L450.3 181.22L451.3 180.61L452.3 180.04L453.3 179.50L454.3 179.01L455.3 178.58L456.3 178.23L457.3 177.96L458.3 177.78L459.3 177.70L460.3 177.71L461.3 177.77L462.3 177.83L463.3 177.92L464.3 178.01L465.3 178.12L466.3 178.25L467.3 178.38L468.3 178.53L469.3 178.70L470.3 178.86L471.3 179.02L472.3 179.17L473.3 179.30L474.3 179.39L475.3 179.43L476.3 179.43L477.3 179.39L478.3 179.32L479.3 179.22L480.3 179.07L481.3 178.86L482.3 178.57L483.3 178.20L484.3 177.76L485.3 177.29L486.3 176.80L487.3 176.30L488.3 175.80L489.3 175.32L490.3 174.87L491.3 174.43L492.3 174.00L493.3 173.59L494.3 173.19L495.3 172.81L496.3 172.44L497.3 172.12L498.3 171.93L499.3 171.86L500.3 171.88L501.3 171.96L502.3 172.07L503.3 172.24L504.3 172.51L505.3 172.90L506.3 173.44L507.3 174.13L508.3 174.87L509.3 175.66L510.3 176.48L511.3 177.35L512.3 178.26L513.3 179.20L514.3 180.16L515.3 181.13L516.3 182.11L517.3 183.09L518.3 184.08L519.3 185.09L520.3 186.11L521.3 187.16L522.3 188.25L523.3 189.34L524.3 190.44L525.3 191.53L526.3 192.59L527.3 193.61L528.3 194.57L529.3 195.49L530.3 196.36L531.3 197.19L532.3 197.96L533.3 198.70L534.3 199.39L535.3 200.04L536.3 200.64L537.3 201.20L538.3 201.72L539.3 202.19L540.3 202.63L541.3 203.04L542.3 203.42L543.3 203.78L544.3 204.10L545.3 204.38L546.3 204.64L547.3 204.88L548.3 205.10L549.3 205.29L550.0 205.40L550.0 206.22L393.3 206.22Z"/></clipPath>
<clipPath id="c6"><path d="M350.8 240.70L351.8 240.66L352.8 240.62L353.8 240.57L354.8 240.51L355.8 240.45L356.8 240.37L357.8 240.29L358.8 240.21L359.8 240.11L360.8 240.00L361.8 239.89L362.8 239.77L363.8 239.63L364.8 239.49L365.8 239.34L366.8 239.19L367.8 239.02L368.8 238.85L369.8 238.68L370.8 238.49L371.8 238.30L372.8 238.10L373.8 237.90L374.8 237.68L375.8 237.45L376.8 237.21L377.8 236.97L378.8 236.73L379.8 236.49L380.8 236.25L381.8 236.02L382.8 235.80L383.8 235.60L384.8 235.40L385.8 235.21L386.8 235.03L387.8 234.86L388.8 234.70L389.8 234.55L390.8 234.42L391.8 234.29L392.8 234.18L393.8 234.10L394.8 234.04L395.8 233.98L396.8 233.93L397.8 233.88L398.8 233.81L399.8 233.72L400.8 233.61L401.8 233.50L402.8 233.37L403.8 233.24L404.8 233.09L405.8 232.94L406.8 232.77L407.8 232.59L408.8 232.40L409.8 232.20L410.8 231.99L411.8 231.75L412.8 231.50L413.8 231.23L414.8 230.94L415.8 230.61L416.8 230.26L417.8 229.90L418.8 229.53L419.8 229.16L420.8 228.79L421.8 228.41L422.8 228.04L423.8 227.66L424.8 227.28L425.8 226.89L426.8 226.51L427.8 226.13L428.8 225.74L429.8 225.36L430.8 224.97L431.8 224.58L432.8 224.18L433.8 223.77L434.8 223.35L435.8 222.91L436.8 222.46L437.8 221.99L438.8 221.50L439.8 221.00L440.8 220.49L441.8 219.95L442.8 219.41L443.8 218.85L444.8 218.29L445.8 217.73L446.8 217.17L447.8 216.61L448.8 216.05L449.8 215.51L450.8 214.97L451.8 214.44L452.8 213.92L453.8 213.40L454.8 212.88L455.8 212.37L456.8 211.87L457.8 211.37L458.8 210.88L459.8 210.40L460.8 209.93L461.8 209.51L462.8 209.12L463.8 208.77L464.8 208.44L465.8 208.14L466.8 207.85L467.8 207.58L468.8 207.32L469.8 207.05L470.8 206.80L471.8 206.58L472.8 206.39L473.8 206.23L474.8 206.10L475.8 205.99L476.8 205.90L477.8 205.83L478.8 205.78L479.8 205.82L480.8 205.92L481.8 206.09L482.8 206.32L483.8 206.61L484.8 206.93L485.8 207.29L486.8 207.69L487.8 208.17L488.8 208.76L489.8 209.47L490.8 210.35L491.8 211.42L492.8 212.58L493.8 213.76L494.8 214.95L495.8 216.15L496.8 217.37L497.8 218.59L498.8 219.81L499.8 221.05L500.8 222.30L501.8 223.54L502.8 224.79L503.8 226.03L504.8 227.26L505.8 228.45L506.8 229.57L507.8 230.63L508.8 231.63L509.8 232.56L510.8 233.45L511.8 234.28L512.8 235.05L513.8 235.74L514.8 236.36L515.8 236.91L516.8 237.40L517.8 237.81L518.8 238.18L519.8 238.51L520.8 238.82L521.8 239.11L522.8 239.36L523.8 239.58L524.8 239.77L525.8 239.92L526.8 240.07L527.8 240.20L528.8 240.32L529.8 240.42L530.8 240.50L531.8 240.56L532.8 240.60L533.0 240.60L533.0 241.38L350.8 241.38Z"/></clipPath>
<clipPath id="c7"><path d="M336.3 275.80L337.3 275.77L338.3 275.73L339.3 275.67L340.3 275.60L341.3 275.51L342.3 275.41L343.3 275.30L344.3 275.17L345.3 275.03L346.3 274.87L347.3 274.69L348.3 274.51L349.3 274.30L350.3 274.08L351.3 273.85L352.3 273.59L353.3 273.32L354.3 273.02L355.3 272.70L356.3 272.38L357.3 272.04L358.3 271.70L359.3 271.34L360.3 270.96L361.3 270.57L362.3 270.15L363.3 269.70L364.3 269.24L365.3 268.78L366.3 268.31L367.3 267.85L368.3 267.38L369.3 266.91L370.3 266.45L371.3 265.98L372.3 265.52L373.3 265.06L374.3 264.60L375.3 264.14L376.3 263.68L377.3 263.22L378.3 262.77L379.3 262.31L380.3 261.87L381.3 261.47L382.3 261.14L383.3 260.84L384.3 260.58L385.3 260.33L386.3 260.10L387.3 259.86L388.3 259.65L389.3 259.46L390.3 259.27L391.3 259.09L392.3 258.91L393.3 258.71L394.3 258.48L395.3 258.22L396.3 257.94L397.3 257.66L398.3 257.36L399.3 257.05L400.3 256.73L401.3 256.40L402.3 256.06L403.3 255.70L404.3 255.33L405.3 254.96L406.3 254.57L407.3 254.18L408.3 253.80L409.3 253.41L410.3 253.02L411.3 252.65L412.3 252.28L413.3 251.92L414.3 251.56L415.3 251.22L416.3 250.88L417.3 250.54L418.3 250.22L419.3 249.91L420.3 249.61L421.3 249.35L422.3 249.13L423.3 248.95L424.3 248.79L425.3 248.66L426.3 248.54L427.3 248.44L428.3 248.33L429.3 248.25L430.3 248.19L431.3 248.16L432.3 248.16L433.3 248.22L434.3 248.29L435.3 248.37L436.3 248.45L437.3 248.54L438.3 248.63L439.3 248.73L440.3 248.83L441.3 248.93L442.3 249.04L443.3 249.15L444.3 249.25L445.3 249.36L446.3 249.46L447.3 249.56L448.3 249.65L449.3 249.73L450.3 249.80L451.3 249.87L452.3 249.94L453.3 250.00L454.3 250.03L455.3 250.02L456.3 249.97L457.3 249.90L458.3 249.84L459.3 249.80L460.3 249.81L461.3 249.86L462.3 249.98L463.3 250.19L464.3 250.51L465.3 250.94L466.3 251.49L467.3 252.12L468.3 252.83L469.3 253.61L470.3 254.46L471.3 255.32L472.3 256.18L473.3 257.05L474.3 257.91L475.3 258.78L476.3 259.65L477.3 260.52L478.3 261.40L479.3 262.28L480.3 263.17L481.3 264.05L482.3 264.92L483.3 265.80L484.3 266.65L485.3 267.46L486.3 268.23L487.3 268.97L488.3 269.67L489.3 270.34L490.3 270.99L491.3 271.59L492.3 272.14L493.3 272.64L494.3 273.09L495.3 273.50L496.3 273.86L497.3 274.19L498.3 274.50L499.3 274.77L500.3 275.01L501.3 275.23L502.3 275.40L503.3 275.56L504.3 275.69L505.3 275.79L505.5 275.80L505.5 276.55L336.3 276.55Z"/></clipPath>
<clipPath id="c8"><path d="M271.2 311.00L272.2 310.90L273.2 310.79L274.2 310.68L275.2 310.57L276.2 310.45L277.2 310.32L278.2 310.19L279.2 310.06L280.2 309.92L281.2 309.78L282.2 309.62L283.2 309.46L284.2 309.30L285.2 309.12L286.2 308.95L287.2 308.77L288.2 308.59L289.2 308.42L290.2 308.25L291.2 308.08L292.2 307.92L293.2 307.79L294.2 307.66L295.2 307.52L296.2 307.37L297.2 307.19L298.2 307.01L299.2 306.81L300.2 306.60L301.2 306.38L302.2 306.14L303.2 305.89L304.2 305.63L305.2 305.36L306.2 305.08L307.2 304.81L308.2 304.54L309.2 304.26L310.2 303.99L311.2 303.71L312.2 303.44L313.2 303.16L314.2 302.88L315.2 302.61L316.2 302.33L317.2 302.05L318.2 301.78L319.2 301.50L320.2 301.22L321.2 300.94L322.2 300.67L323.2 300.40L324.2 300.13L325.2 299.86L326.2 299.60L327.2 299.34L328.2 299.08L329.2 298.83L330.2 298.58L331.2 298.34L332.2 298.11L333.2 297.89L334.2 297.68L335.2 297.47L336.2 297.28L337.2 297.09L338.2 296.90L339.2 296.72L340.2 296.54L341.2 296.36L342.2 296.19L343.2 296.02L344.2 295.85L345.2 295.68L346.2 295.51L347.2 295.35L348.2 295.18L349.2 295.02L350.2 294.85L351.2 294.69L352.2 294.53L353.2 294.37L354.2 294.22L355.2 294.06L356.2 293.92L357.2 293.77L358.2 293.63L359.2 293.52L360.2 293.44L361.2 293.38L362.2 293.34L363.2 293.32L364.2 293.30L365.2 293.30L366.2 293.33L367.2 293.38L368.2 293.43L369.2 293.47L370.2 293.50L371.2 293.50L372.2 293.48L373.2 293.45L374.2 293.42L375.2 293.37L376.2 293.31L377.2 293.24L378.2 293.15L379.2 293.05L380.2 292.92L381.2 292.78L382.2 292.64L383.2 292.50L384.2 292.38L385.2 292.27L386.2 292.19L387.2 292.12L388.2 292.06L389.2 292.02L390.2 291.97L391.2 291.94L392.2 291.90L393.2 291.85L394.2 291.81L395.2 291.75L396.2 291.69L397.2 291.61L398.2 291.54L399.2 291.45L400.2 291.36L401.2 291.26L402.2 291.16L403.2 291.04L404.2 290.90L405.2 290.73L406.2 290.55L407.2 290.36L408.2 290.16L409.2 289.92L410.2 289.64L411.2 289.34L412.2 289.06L413.2 288.82L414.2 288.63L415.2 288.49L416.2 288.38L417.2 288.32L418.2 288.28L419.2 288.28L420.2 288.31L421.2 288.36L422.2 288.45L423.2 288.56L424.2 288.71L425.2 288.88L426.2 289.09L427.2 289.32L428.2 289.57L429.2 289.84L430.2 290.13L431.2 290.45L432.2 290.79L433.2 291.16L434.2 291.55L435.2 291.95L436.2 292.36L437.2 292.80L438.2 293.26L439.2 293.77L440.2 294.31L441.2 294.88L442.2 295.44L443.2 296.01L444.2 296.58L445.2 297.15L446.2 297.72L447.2 298.28L448.2 298.84L449.2 299.41L450.2 299.97L451.2 300.53L452.2 301.09L453.2 301.64L454.2 302.19L455.2 302.72L456.2 303.22L457.2 303.71L458.2 304.18L459.2 304.64L460.2 305.09L461.2 305.51L462.2 305.92L463.2 306.30L464.2 306.66L465.2 307.00L466.2 307.34L467.2 307.66L468.2 307.97L469.2 308.28L470.2 308.56L471.2 308.82L472.2 309.07L473.2 309.28L474.2 309.47L475.2 309.65L476.2 309.81L477.2 309.96L478.2 310.09L479.2 310.21L480.2 310.32L481.2 310.43L482.2 310.53L483.2 310.62L484.2 310.71L485.2 310.79L486.2 310.87L487.2 310.94L488.2 310.99L488.3 311.00L488.3 311.71L271.2 311.71Z"/></clipPath>
<clipPath id="c9"><path d="M196.3 346.20L197.3 346.15L198.3 346.11L199.3 346.05L200.3 346.00L201.3 345.94L202.3 345.87L203.3 345.80L204.3 345.72L205.3 345.64L206.3 345.54L207.3 345.44L208.3 345.33L209.3 345.22L210.3 345.10L211.3 344.99L212.3 344.87L213.3 344.76L214.3 344.64L215.3 344.53L216.3 344.42L217.3 344.31L218.3 344.20L219.3 344.09L220.3 343.99L221.3 343.88L222.3 343.78L223.3 343.67L224.3 343.56L225.3 343.46L226.3 343.36L227.3 343.26L228.3 343.16L229.3 343.06L230.3 342.97L231.3 342.88L232.3 342.79L233.3 342.71L234.3 342.62L235.3 342.54L236.3 342.45L237.3 342.37L238.3 342.28L239.3 342.20L240.3 342.12L241.3 342.03L242.3 341.95L243.3 341.87L244.3 341.79L245.3 341.71L246.3 341.63L247.3 341.55L248.3 341.47L249.3 341.39L250.3 341.31L251.3 341.23L252.3 341.15L253.3 341.05L254.3 340.93L255.3 340.80L256.3 340.66L257.3 340.50L258.3 340.32L259.3 340.14L260.3 339.94L261.3 339.71L262.3 339.46L263.3 339.18L264.3 338.87L265.3 338.53L266.3 338.16L267.3 337.76L268.3 337.36L269.3 336.96L270.3 336.55L271.3 336.13L272.3 335.72L273.3 335.30L274.3 334.88L275.3 334.45L276.3 334.02L277.3 333.59L278.3 333.15L279.3 332.72L280.3 332.29L281.3 331.87L282.3 331.45L283.3 331.04L284.3 330.65L285.3 330.27L286.3 329.92L287.3 329.58L288.3 329.27L289.3 328.98L290.3 328.73L291.3 328.50L292.3 328.31L293.3 328.14L294.3 327.99L295.3 327.86L296.3 327.73L297.3 327.60L298.3 327.47L299.3 327.36L300.3 327.26L301.3 327.17L302.3 327.11L303.3 327.07L304.3 327.07L305.3 327.08L306.3 327.11L307.3 327.16L308.3 327.23L309.3 327.30L310.3 327.37L311.3 327.45L312.3 327.53L313.3 327.63L314.3 327.74L315.3 327.87L316.3 328.03L317.3 328.21L318.3 328.43L319.3 328.67L320.3 328.91L321.3 329.15L322.3 329.40L323.3 329.65L324.3 329.89L325.3 330.13L326.3 330.37L327.3 330.60L328.3 330.83L329.3 331.06L330.3 331.29L331.3 331.51L332.3 331.72L333.3 331.91L334.3 332.06L335.3 332.17L336.3 332.24L337.3 332.28L338.3 332.30L339.3 332.30L340.3 332.29L341.3 332.27L342.3 332.25L343.3 332.22L344.3 332.18L345.3 332.14L346.3 332.08L347.3 332.03L348.3 331.96L349.3 331.88L350.3 331.79L351.3 331.70L352.3 331.60L353.3 331.51L354.3 331.42L355.3 331.34L356.3 331.28L357.3 331.24L358.3 331.20L359.3 331.18L360.3 331.16L361.3 331.16L362.3 331.17L363.3 331.18L364.3 331.20L365.3 331.23L366.3 331.26L367.3 331.31L368.3 331.37L369.3 331.47L370.3 331.59L371.3 331.75L372.3 331.92L373.3 332.10L374.3 332.28L375.3 332.46L376.3 332.64L377.3 332.83L378.3 333.01L379.3 333.20L380.3 333.39L381.3 333.58L382.3 333.78L383.3 333.98L384.3 334.17L385.3 334.36L386.3 334.55L387.3 334.73L388.3 334.90L389.3 335.05L390.3 335.17L391.3 335.28L392.3 335.38L393.3 335.47L394.3 335.56L395.3 335.64L396.3 335.73L397.3 335.80L398.3 335.87L399.3 335.94L400.3 336.01L401.3 336.08L402.3 336.16L403.3 336.26L404.3 336.37L405.3 336.49L406.3 336.62L407.3 336.76L408.3 336.90L409.3 337.05L410.3 337.22L411.3 337.39L412.3 337.57L413.3 337.74L414.3 337.92L415.3 338.08L416.3 338.24L417.3 338.38L418.3 338.51L419.3 338.62L420.3 338.73L421.3 338.83L422.3 338.94L423.3 339.06L424.3 339.20L425.3 339.35L426.3 339.51L427.3 339.68L428.3 339.85L429.3 340.02L430.3 340.20L431.3 340.37L432.3 340.54L433.3 340.70L434.3 340.86L435.3 341.02L436.3 341.18L437.3 341.34L438.3 341.49L439.3 341.65L440.3 341.80L441.3 341.94L442.3 342.08L443.3 342.22L444.3 342.35L445.3 342.47L446.3 342.59L447.3 342.71L448.3 342.82L449.3 342.93L450.3 343.03L451.3 343.13L452.3 343.23L453.3 343.32L454.3 343.41L455.3 343.50L456.3 343.60L457.3 343.69L458.3 343.80L459.3 343.91L460.3 344.02L461.3 344.14L462.3 344.26L463.3 344.38L464.3 344.50L465.3 344.63L466.3 344.75L467.3 344.88L468.3 345.01L469.3 345.15L470.3 345.29L471.3 345.43L472.3 345.57L473.3 345.70L474.3 345.82L475.3 345.92L476.3 346.01L477.3 346.10L478.3 346.17L478.7 346.20L478.7 346.87L196.3 346.87Z"/></clipPath>
<clipPath id="c10"><path d="M156.3 381.20L157.3 381.13L158.3 381.06L159.3 381.00L160.3 380.93L161.3 380.86L162.3 380.80L163.3 380.73L164.3 380.67L165.3 380.60L166.3 380.54L167.3 380.47L168.3 380.41L169.3 380.35L170.3 380.28L171.3 380.22L172.3 380.16L173.3 380.10L174.3 380.04L175.3 379.99L176.3 379.93L177.3 379.87L178.3 379.82L179.3 379.76L180.3 379.70L181.3 379.63L182.3 379.57L183.3 379.50L184.3 379.43L185.3 379.35L186.3 379.27L187.3 379.18L188.3 379.10L189.3 379.01L190.3 378.91L191.3 378.82L192.3 378.72L193.3 378.63L194.3 378.53L195.3 378.43L196.3 378.34L197.3 378.24L198.3 378.15L199.3 378.05L200.3 377.95L201.3 377.85L202.3 377.75L203.3 377.65L204.3 377.54L205.3 377.44L206.3 377.34L207.3 377.24L208.3 377.14L209.3 377.03L210.3 376.92L211.3 376.80L212.3 376.66L213.3 376.50L214.3 376.30L215.3 376.07L216.3 375.80L217.3 375.52L218.3 375.24L219.3 374.97L220.3 374.73L221.3 374.50L222.3 374.26L223.3 374.02L224.3 373.79L225.3 373.57L226.3 373.36L227.3 373.17L228.3 373.00L229.3 372.84L230.3 372.69L231.3 372.55L232.3 372.40L233.3 372.26L234.3 372.12L235.3 371.99L236.3 371.85L237.3 371.72L238.3 371.59L239.3 371.45L240.3 371.32L241.3 371.19L242.3 371.06L243.3 370.93L244.3 370.79L245.3 370.66L246.3 370.52L247.3 370.37L248.3 370.22L249.3 370.07L250.3 369.92L251.3 369.76L252.3 369.61L253.3 369.44L254.3 369.23L255.3 368.96L256.3 368.59L257.3 368.11L258.3 367.56L259.3 366.96L260.3 366.33L261.3 365.71L262.3 365.08L263.3 364.42L264.3 363.76L265.3 363.13L266.3 362.53L267.3 362.02L268.3 361.61L269.3 361.27L270.3 360.98L271.3 360.73L272.3 360.53L273.3 360.39L274.3 360.30L275.3 360.28L276.3 360.32L277.3 360.39L278.3 360.50L279.3 360.68L280.3 360.95L281.3 361.32L282.3 361.74L283.3 362.16L284.3 362.59L285.3 363.01L286.3 363.42L287.3 363.83L288.3 364.23L289.3 364.63L290.3 365.03L291.3 365.41L292.3 365.76L293.3 366.07L294.3 366.33L295.3 366.56L296.3 366.76L297.3 366.93L298.3 367.08L299.3 367.21L300.3 367.33L301.3 367.41L302.3 367.48L303.3 367.53L304.3 367.57L305.3 367.61L306.3 367.65L307.3 367.69L308.3 367.72L309.3 367.75L310.3 367.78L311.3 367.79L312.3 367.80L313.3 367.80L314.3 367.80L315.3 367.80L316.3 367.80L317.3 367.80L318.3 367.80L319.3 367.80L320.3 367.80L321.3 367.80L322.3 367.80L323.3 367.80L324.3 367.80L325.3 367.80L326.3 367.80L327.3 367.80L328.3 367.80L329.3 367.80L330.3 367.80L331.3 367.80L332.3 367.80L333.3 367.80L334.3 367.80L335.3 367.80L336.3 367.80L337.3 367.80L338.3 367.80L339.3 367.80L340.3 367.81L341.3 367.82L342.3 367.85L343.3 367.89L344.3 367.94L345.3 368.00L346.3 368.06L347.3 368.13L348.3 368.21L349.3 368.30L350.3 368.39L351.3 368.48L352.3 368.57L353.3 368.66L354.3 368.75L355.3 368.84L356.3 368.93L357.3 369.02L358.3 369.11L359.3 369.20L360.3 369.29L361.3 369.38L362.3 369.47L363.3 369.56L364.3 369.65L365.3 369.73L366.3 369.82L367.3 369.91L368.3 370.00L369.3 370.08L370.3 370.15L371.3 370.21L372.3 370.26L373.3 370.31L374.3 370.36L375.3 370.42L376.3 370.47L377.3 370.54L378.3 370.61L379.3 370.68L380.3 370.75L381.3 370.84L382.3 370.94L383.3 371.06L384.3 371.19L385.3 371.35L386.3 371.53L387.3 371.74L388.3 371.97L389.3 372.22L390.3 372.48L391.3 372.75L392.3 373.02L393.3 373.30L394.3 373.58L395.3 373.87L396.3 374.16L397.3 374.45L398.3 374.74L399.3 375.03L400.3 375.32L401.3 375.59L402.3 375.86L403.3 376.12L404.3 376.37L405.3 376.62L406.3 376.86L407.3 377.10L408.3 377.32L409.3 377.55L410.3 377.76L411.3 377.97L412.3 378.17L413.3 378.37L414.3 378.55L415.3 378.72L416.3 378.89L417.3 379.05L418.3 379.20L419.3 379.34L420.3 379.48L421.3 379.61L422.3 379.74L423.3 379.85L424.3 379.97L425.3 380.07L426.3 380.16L427.3 380.25L428.3 380.34L429.3 380.42L430.3 380.49L431.3 380.57L432.3 380.64L433.3 380.70L434.3 380.76L435.3 380.82L436.3 380.87L437.3 380.92L438.3 380.97L439.3 381.01L440.3 381.05L441.3 381.09L442.3 381.13L443.3 381.16L444.3 381.19L444.7 381.20L444.7 382.04L156.3 382.04Z"/></clipPath>
<clipPath id="c11"><path d="M165.3 416.50L166.3 416.46L167.3 416.41L168.3 416.37L169.3 416.33L170.3 416.28L171.3 416.23L172.3 416.18L173.3 416.14L174.3 416.09L175.3 416.04L176.3 415.99L177.3 415.94L178.3 415.89L179.3 415.84L180.3 415.78L181.3 415.73L182.3 415.68L183.3 415.63L184.3 415.57L185.3 415.52L186.3 415.46L187.3 415.40L188.3 415.34L189.3 415.28L190.3 415.21L191.3 415.14L192.3 415.07L193.3 415.00L194.3 414.92L195.3 414.83L196.3 414.74L197.3 414.64L198.3 414.54L199.3 414.44L200.3 414.33L201.3 414.22L202.3 414.11L203.3 414.00L204.3 413.89L205.3 413.78L206.3 413.66L207.3 413.54L208.3 413.42L209.3 413.30L210.3 413.18L211.3 413.05L212.3 412.93L213.3 412.80L214.3 412.67L215.3 412.53L216.3 412.38L217.3 412.23L218.3 412.07L219.3 411.90L220.3 411.73L221.3 411.56L222.3 411.38L223.3 411.20L224.3 411.01L225.3 410.81L226.3 410.60L227.3 410.37L228.3 410.13L229.3 409.88L230.3 409.61L231.3 409.32L232.3 409.02L233.3 408.70L234.3 408.38L235.3 408.04L236.3 407.70L237.3 407.35L238.3 407.00L239.3 406.64L240.3 406.26L241.3 405.87L242.3 405.48L243.3 405.10L244.3 404.74L245.3 404.40L246.3 404.09L247.3 403.79L248.3 403.51L249.3 403.25L250.3 403.01L251.3 402.78L252.3 402.57L253.3 402.37L254.3 402.16L255.3 401.95L256.3 401.74L257.3 401.53L258.3 401.32L259.3 401.11L260.3 400.90L261.3 400.69L262.3 400.48L263.3 400.27L264.3 400.06L265.3 399.85L266.3 399.64L267.3 399.42L268.3 399.21L269.3 399.00L270.3 398.80L271.3 398.62L272.3 398.46L273.3 398.32L274.3 398.19L275.3 398.08L276.3 397.97L277.3 397.88L278.3 397.81L279.3 397.77L280.3 397.75L281.3 397.75L282.3 397.78L283.3 397.83L284.3 397.89L285.3 397.96L286.3 398.04L287.3 398.12L288.3 398.20L289.3 398.30L290.3 398.40L291.3 398.51L292.3 398.62L293.3 398.73L294.3 398.84L295.3 398.95L296.3 399.06L297.3 399.16L298.3 399.25L299.3 399.33L300.3 399.39L301.3 399.45L302.3 399.51L303.3 399.57L304.3 399.64L305.3 399.73L306.3 399.83L307.3 399.96L308.3 400.08L309.3 400.22L310.3 400.36L311.3 400.50L312.3 400.64L313.3 400.79L314.3 400.94L315.3 401.09L316.3 401.25L317.3 401.40L318.3 401.55L319.3 401.70L320.3 401.83L321.3 401.95L322.3 402.05L323.3 402.12L324.3 402.18L325.3 402.20L326.3 402.20L327.3 402.16L328.3 402.10L329.3 402.03L330.3 401.95L331.3 401.88L332.3 401.82L333.3 401.78L334.3 401.74L335.3 401.70L336.3 401.68L337.3 401.67L338.3 401.67L339.3 401.70L340.3 401.76L341.3 401.84L342.3 401.95L343.3 402.08L344.3 402.22L345.3 402.38L346.3 402.55L347.3 402.73L348.3 402.91L349.3 403.10L350.3 403.28L351.3 403.46L352.3 403.63L353.3 403.80L354.3 403.96L355.3 404.12L356.3 404.27L357.3 404.43L358.3 404.59L359.3 404.75L360.3 404.92L361.3 405.09L362.3 405.27L363.3 405.45L364.3 405.62L365.3 405.79L366.3 405.94L367.3 406.08L368.3 406.18L369.3 406.26L370.3 406.32L371.3 406.36L372.3 406.40L373.3 406.43L374.3 406.47L375.3 406.51L376.3 406.56L377.3 406.59L378.3 406.62L379.3 406.65L380.3 406.68L381.3 406.71L382.3 406.75L383.3 406.80L384.3 406.87L385.3 406.96L386.3 407.07L387.3 407.22L388.3 407.41L389.3 407.62L390.3 407.88L391.3 408.15L392.3 408.43L393.3 408.71L394.3 409.00L395.3 409.29L396.3 409.58L397.3 409.88L398.3 410.18L399.3 410.49L400.3 410.80L401.3 411.11L402.3 411.41L403.3 411.70L404.3 411.98L405.3 412.24L406.3 412.48L407.3 412.72L408.3 412.94L409.3 413.15L410.3 413.36L411.3 413.56L412.3 413.76L413.3 413.95L414.3 414.12L415.3 414.29L416.3 414.44L417.3 414.58L418.3 414.72L419.3 414.85L420.3 414.98L421.3 415.10L422.3 415.22L423.3 415.33L424.3 415.43L425.3 415.53L426.3 415.63L427.3 415.72L428.3 415.81L429.3 415.90L430.3 415.98L431.3 416.06L432.3 416.13L433.3 416.20L434.3 416.26L435.3 416.32L436.3 416.37L437.3 416.42L438.3 416.46L439.3 416.49L439.5 416.50L439.5 417.20L165.3 417.20Z"/></clipPath>
</defs>
<rect width="672" height="480" fill="#FFFFFF"/>
<rect x="91.0" y="7.3" width="501.10" height="430.60" fill="#E6E6E6"/>
<path d="M111.95 7.3V437.9M203.05 7.3V437.9M294.15 7.3V437.9M385.25 7.3V437.9M476.35 7.3V437.9M567.45 7.3V437.9" stroke="#FFFFFF" stroke-width="0.6" fill="none"/>
<path d="M157.50 7.3V437.9M248.60 7.3V437.9M339.70 7.3V437.9M430.80 7.3V437.9M521.90 7.3V437.9M91.0 30.15H592.1M91.0 65.31H592.1M91.0 100.48H592.1M91.0 135.64H592.1M91.0 170.80H592.1M91.0 205.97H592.1M91.0 241.13H592.1M91.0 276.30H592.1M91.0 311.46H592.1M91.0 346.62H592.1M91.0 381.79H592.1M91.0 416.95H592.1" stroke="#FFFFFF" stroke-width="1.2" fill="none"/>
<g clip-path="url(#pc)">
<path d="M161.7 30.00L162.7 29.95L163.7 29.90L164.7 29.85L165.7 29.80L166.7 29.75L167.7 29.70L168.7 29.64L169.7 29.59L170.7 29.54L171.7 29.48L172.7 29.43L173.7 29.37L174.7 29.32L175.7 29.26L176.7 29.20L177.7 29.15L178.7 29.09L179.7 29.03L180.7 28.97L181.7 28.91L182.7 28.85L183.7 28.79L184.7 28.73L185.7 28.67L186.7 28.61L187.7 28.55L188.7 28.49L189.7 28.42L190.7 28.36L191.7 28.30L192.7 28.24L193.7 28.18L194.7 28.11L195.7 28.05L196.7 27.98L197.7 27.91L198.7 27.85L199.7 27.78L200.7 27.70L201.7 27.63L202.7 27.55L203.7 27.47L204.7 27.38L205.7 27.29L206.7 27.20L207.7 27.11L208.7 27.01L209.7 26.91L210.7 26.81L211.7 26.71L212.7 26.61L213.7 26.51L214.7 26.40L215.7 26.30L216.7 26.20L217.7 26.09L218.7 25.98L219.7 25.86L220.7 25.74L221.7 25.63L222.7 25.51L223.7 25.41L224.7 25.32L225.7 25.25L226.7 25.18L227.7 25.12L228.7 25.07L229.7 25.02L230.7 24.98L231.7 24.93L232.7 24.89L233.7 24.85L234.7 24.80L235.7 24.75L236.7 24.70L237.7 24.64L238.7 24.59L239.7 24.53L240.7 24.47L241.7 24.42L242.7 24.36L243.7 24.29L244.7 24.23L245.7 24.17L246.7 24.11L247.7 24.04L248.7 23.97L249.7 23.88L250.7 23.77L251.7 23.63L252.7 23.48L253.7 23.32L254.7 23.15L255.7 22.98L256.7 22.80L257.7 22.62L258.7 22.41L259.7 22.18L260.7 21.92L261.7 21.60L262.7 21.24L263.7 20.84L264.7 20.42L265.7 19.97L266.7 19.52L267.7 19.07L268.7 18.64L269.7 18.23L270.7 17.85L271.7 17.48L272.7 17.11L273.7 16.74L274.7 16.38L275.7 16.02L276.7 15.68L277.7 15.33L278.7 15.00L279.7 14.67L280.7 14.35L281.7 14.02L282.7 13.71L283.7 13.40L284.7 13.11L285.7 12.83L286.7 12.57L287.7 12.33L288.7 12.09L289.7 11.85L290.7 11.60L291.7 11.36L292.7 11.12L293.7 10.88L294.7 10.64L295.7 10.40L296.7 10.16L297.7 9.92L298.7 9.68L299.7 9.45L300.7 9.21L301.7 8.97L302.7 8.73L303.7 8.50L304.7 8.29L305.7 8.13L306.7 8.00L307.7 7.90L308.7 7.82L309.7 7.74L310.7 7.67L311.7 7.61L312.7 7.57L313.7 7.53L314.7 7.51L315.7 7.49L316.7 7.47L317.7 7.45L318.7 7.46L319.7 7.50L320.7 7.59L321.7 7.74L322.7 7.96L323.7 8.19L324.7 8.44L325.7 8.70L326.7 8.96L327.7 9.23L328.7 9.50L329.7 9.77L330.7 10.05L331.7 10.33L332.7 10.60L333.7 10.88L334.7 11.14L335.7 11.40L336.7 11.65L337.7 11.90L338.7 12.13L339.7 12.36L340.7 12.59L341.7 12.82L342.7 13.04L343.7 13.26L344.7 13.47L345.7 13.68L346.7 13.89L347.7 14.10L348.7 14.30L349.7 14.50L350.7 14.69L351.7 14.88L352.7 15.06L353.7 15.24L354.7 15.41L355.7 15.58L356.7 15.75L357.7 15.91L358.7 16.06L359.7 16.20L360.7 16.33L361.7 16.46L362.7 16.59L363.7 16.74L364.7 16.90L365.7 17.07L366.7 17.25L367.7 17.44L368.7 17.63L369.7 17.82L370.7 18.02L371.7 18.22L372.7 18.43L373.7 18.64L374.7 18.85L375.7 19.06L376.7 19.27L377.7 19.48L378.7 19.69L379.7 19.91L380.7 20.12L381.7 20.33L382.7 20.55L383.7 20.77L384.7 20.98L385.7 21.20L386.7 21.42L387.7 21.65L388.7 21.88L389.7 22.11L390.7 22.34L391.7 22.57L392.7 22.80L393.7 23.03L394.7 23.25L395.7 23.47L396.7 23.68L397.7 23.88L398.7 24.08L399.7 24.28L400.7 24.48L401.7 24.68L402.7 24.88L403.7 25.08L404.7 25.28L405.7 25.48L406.7 25.68L407.7 25.88L408.7 26.08L409.7 26.28L410.7 26.48L411.7 26.68L412.7 26.88L413.7 27.08L414.7 27.28L415.7 27.48L416.7 27.68L417.7 27.88L418.7 28.07L419.7 28.25L420.7 28.43L421.7 28.60L422.7 28.76L423.7 28.91L424.7 29.06L425.7 29.20L426.7 29.33L427.7 29.44L428.7 29.54L429.7 29.62L430.7 29.70L431.7 29.76L432.7 29.82L433.7 29.88L434.7 29.92L435.7 29.96L436.7 29.98L437.7 30.00L437.8 30.00L437.8 30.40L161.7 30.40Z" fill="url(#gx)" opacity="0.65"/>
<g clip-path="url(#c0)" fill="url(#gx)"><use href="#se"/><use href="#so"/></g>
<path d="M161.7 30.00L162.7 29.95L163.7 29.90L164.7 29.85L165.7 29.80L166.7 29.75L167.7 29.70L168.7 29.64L169.7 29.59L170.7 29.54L171.7 29.48L172.7 29.43L173.7 29.37L174.7 29.32L175.7 29.26L176.7 29.20L177.7 29.15L178.7 29.09L179.7 29.03L180.7 28.97L181.7 28.91L182.7 28.85L183.7 28.79L184.7 28.73L185.7 28.67L186.7 28.61L187.7 28.55L188.7 28.49L189.7 28.42L190.7 28.36L191.7 28.30L192.7 28.24L193.7 28.18L194.7 28.11L195.7 28.05L196.7 27.98L197.7 27.91L198.7 27.85L199.7 27.78L200.7 27.70L201.7 27.63L202.7 27.55L203.7 27.47L204.7 27.38L205.7 27.29L206.7 27.20L207.7 27.11L208.7 27.01L209.7 26.91L210.7 26.81L211.7 26.71L212.7 26.61L213.7 26.51L214.7 26.40L215.7 26.30L216.7 26.20L217.7 26.09L218.7 25.98L219.7 25.86L220.7 25.74L221.7 25.63L222.7 25.51L223.7 25.41L224.7 25.32L225.7 25.25L226.7 25.18L227.7 25.12L228.7 25.07L229.7 25.02L230.7 24.98L231.7 24.93L232.7 24.89L233.7 24.85L234.7 24.80L235.7 24.75L236.7 24.70L237.7 24.64L238.7 24.59L239.7 24.53L240.7 24.47L241.7 24.42L242.7 24.36L243.7 24.29L244.7 24.23L245.7 24.17L246.7 24.11L247.7 24.04L248.7 23.97L249.7 23.88L250.7 23.77L251.7 23.63L252.7 23.48L253.7 23.32L254.7 23.15L255.7 22.98L256.7 22.80L257.7 22.62L258.7 22.41L259.7 22.18L260.7 21.92L261.7 21.60L262.7 21.24L263.7 20.84L264.7 20.42L265.7 19.97L266.7 19.52L267.7 19.07L268.7 18.64L269.7 18.23L270.7 17.85L271.7 17.48L272.7 17.11L273.7 16.74L274.7 16.38L275.7 16.02L276.7 15.68L277.7 15.33L278.7 15.00L279.7 14.67L280.7 14.35L281.7 14.02L282.7 13.71L283.7 13.40L284.7 13.11L285.7 12.83L286.7 12.57L287.7 12.33L288.7 12.09L289.7 11.85L290.7 11.60L291.7 11.36L292.7 11.12L293.7 10.88L294.7 10.64L295.7 10.40L296.7 10.16L297.7 9.92L298.7 9.68L299.7 9.45L300.7 9.21L301.7 8.97L302.7 8.73L303.7 8.50L304.7 8.29L305.7 8.13L306.7 8.00L307.7 7.90L308.7 7.82L309.7 7.74L310.7 7.67L311.7 7.61L312.7 7.57L313.7 7.53L314.7 7.51L315.7 7.49L316.7 7.47L317.7 7.45L318.7 7.46L319.7 7.50L320.7 7.59L321.7 7.74L322.7 7.96L323.7 8.19L324.7 8.44L325.7 8.70L326.7 8.96L327.7 9.23L328.7 9.50L329.7 9.77L330.7 10.05L331.7 10.33L332.7 10.60L333.7 10.88L334.7 11.14L335.7 11.40L336.7 11.65L337.7 11.90L338.7 12.13L339.7 12.36L340.7 12.59L341.7 12.82L342.7 13.04L343.7 13.26L344.7 13.47L345.7 13.68L346.7 13.89L347.7 14.10L348.7 14.30L349.7 14.50L350.7 14.69L351.7 14.88L352.7 15.06L353.7 15.24L354.7 15.41L355.7 15.58L356.7 15.75L357.7 15.91L358.7 16.06L359.7 16.20L360.7 16.33L361.7 16.46L362.7 16.59L363.7 16.74L364.7 16.90L365.7 17.07L366.7 17.25L367.7 17.44L368.7 17.63L369.7 17.82L370.7 18.02L371.7 18.22L372.7 18.43L373.7 18.64L374.7 18.85L375.7 19.06L376.7 19.27L377.7 19.48L378.7 19.69L379.7 19.91L380.7 20.12L381.7 20.33L382.7 20.55L383.7 20.77L384.7 20.98L385.7 21.20L386.7 21.42L387.7 21.65L388.7 21.88L389.7 22.11L390.7 22.34L391.7 22.57L392.7 22.80L393.7 23.03L394.7 23.25L395.7 23.47L396.7 23.68L397.7 23.88L398.7 24.08L399.7 24.28L400.7 24.48L401.7 24.68L402.7 24.88L403.7 25.08L404.7 25.28L405.7 25.48L406.7 25.68L407.7 25.88L408.7 26.08L409.7 26.28L410.7 26.48L411.7 26.68L412.7 26.88L413.7 27.08L414.7 27.28L415.7 27.48L416.7 27.68L417.7 27.88L418.7 28.07L419.7 28.25L420.7 28.43L421.7 28.60L422.7 28.76L423.7 28.91L424.7 29.06L425.7 29.20L426.7 29.33L427.7 29.44L428.7 29.54L429.7 29.62L430.7 29.70L431.7 29.76L432.7 29.82L433.7 29.88L434.7 29.92L435.7 29.96L436.7 29.98L437.7 30.00L437.8 30.00" fill="none" stroke="#000000" stroke-width="1.45" stroke-linejoin="round"/>
<path d="M204.5 65.00L205.5 64.99L206.5 64.98L207.5 64.96L208.5 64.94L209.5 64.92L210.5 64.90L211.5 64.88L212.5 64.85L213.5 64.82L214.5 64.79L215.5 64.75L216.5 64.71L217.5 64.67L218.5 64.62L219.5 64.57L220.5 64.53L221.5 64.48L222.5 64.43L223.5 64.37L224.5 64.32L225.5 64.27L226.5 64.21L227.5 64.15L228.5 64.09L229.5 64.03L230.5 63.97L231.5 63.91L232.5 63.85L233.5 63.79L234.5 63.72L235.5 63.66L236.5 63.59L237.5 63.52L238.5 63.45L239.5 63.38L240.5 63.31L241.5 63.24L242.5 63.16L243.5 63.09L244.5 63.01L245.5 62.93L246.5 62.85L247.5 62.77L248.5 62.68L249.5 62.59L250.5 62.50L251.5 62.39L252.5 62.28L253.5 62.17L254.5 62.05L255.5 61.94L256.5 61.82L257.5 61.71L258.5 61.58L259.5 61.44L260.5 61.29L261.5 61.10L262.5 60.88L263.5 60.61L264.5 60.30L265.5 59.95L266.5 59.59L267.5 59.22L268.5 58.87L269.5 58.54L270.5 58.24L271.5 57.96L272.5 57.68L273.5 57.40L274.5 57.12L275.5 56.87L276.5 56.63L277.5 56.42L278.5 56.23L279.5 56.08L280.5 55.93L281.5 55.78L282.5 55.64L283.5 55.50L284.5 55.36L285.5 55.22L286.5 55.07L287.5 54.92L288.5 54.78L289.5 54.63L290.5 54.48L291.5 54.32L292.5 54.17L293.5 54.01L294.5 53.84L295.5 53.66L296.5 53.46L297.5 53.23L298.5 52.99L299.5 52.73L300.5 52.47L301.5 52.21L302.5 51.97L303.5 51.74L304.5 51.54L305.5 51.33L306.5 51.13L307.5 50.92L308.5 50.72L309.5 50.51L310.5 50.31L311.5 50.10L312.5 49.90L313.5 49.69L314.5 49.49L315.5 49.28L316.5 49.08L317.5 48.87L318.5 48.67L319.5 48.46L320.5 48.26L321.5 48.06L322.5 47.87L323.5 47.68L324.5 47.50L325.5 47.31L326.5 47.13L327.5 46.94L328.5 46.74L329.5 46.53L330.5 46.28L331.5 46.01L332.5 45.73L333.5 45.46L334.5 45.19L335.5 44.95L336.5 44.73L337.5 44.52L338.5 44.32L339.5 44.13L340.5 43.95L341.5 43.78L342.5 43.62L343.5 43.48L344.5 43.35L345.5 43.24L346.5 43.15L347.5 43.07L348.5 43.01L349.5 42.97L350.5 42.94L351.5 42.92L352.5 42.92L353.5 42.93L354.5 42.96L355.5 43.01L356.5 43.07L357.5 43.13L358.5 43.20L359.5 43.28L360.5 43.36L361.5 43.45L362.5 43.55L363.5 43.65L364.5 43.76L365.5 43.88L366.5 44.01L367.5 44.14L368.5 44.27L369.5 44.42L370.5 44.57L371.5 44.75L372.5 44.95L373.5 45.18L374.5 45.43L375.5 45.70L376.5 45.99L377.5 46.28L378.5 46.58L379.5 46.88L380.5 47.18L381.5 47.49L382.5 47.79L383.5 48.08L384.5 48.37L385.5 48.65L386.5 48.91L387.5 49.17L388.5 49.43L389.5 49.68L390.5 49.93L391.5 50.18L392.5 50.43L393.5 50.69L394.5 50.95L395.5 51.21L396.5 51.48L397.5 51.76L398.5 52.04L399.5 52.33L400.5 52.62L401.5 52.92L402.5 53.22L403.5 53.52L404.5 53.83L405.5 54.14L406.5 54.45L407.5 54.76L408.5 55.08L409.5 55.41L410.5 55.74L411.5 56.08L412.5 56.42L413.5 56.76L414.5 57.09L415.5 57.42L416.5 57.75L417.5 58.06L418.5 58.36L419.5 58.66L420.5 58.94L421.5 59.21L422.5 59.48L423.5 59.74L424.5 59.99L425.5 60.25L426.5 60.50L427.5 60.75L428.5 60.99L429.5 61.21L430.5 61.41L431.5 61.58L432.5 61.73L433.5 61.85L434.5 61.96L435.5 62.07L436.5 62.16L437.5 62.25L438.5 62.33L439.5 62.41L440.5 62.49L441.5 62.56L442.5 62.63L443.5 62.69L444.5 62.76L445.5 62.83L446.5 62.90L447.5 62.96L448.5 63.03L449.5 63.10L450.5 63.17L451.5 63.24L452.5 63.31L453.5 63.39L454.5 63.47L455.5 63.54L456.5 63.62L457.5 63.70L458.5 63.78L459.5 63.86L460.5 63.94L461.5 64.01L462.5 64.09L463.5 64.16L464.5 64.24L465.5 64.30L466.5 64.37L467.5 64.44L468.5 64.50L469.5 64.56L470.5 64.62L471.5 64.67L472.5 64.73L473.5 64.78L474.5 64.84L475.5 64.89L475.7 64.90L475.7 65.56L204.5 65.56Z" fill="url(#gx)" opacity="0.65"/>
<g clip-path="url(#c1)" fill="url(#gx)"><use href="#se"/><use href="#so"/></g>
<path d="M204.5 65.00L205.5 64.99L206.5 64.98L207.5 64.96L208.5 64.94L209.5 64.92L210.5 64.90L211.5 64.88L212.5 64.85L213.5 64.82L214.5 64.79L215.5 64.75L216.5 64.71L217.5 64.67L218.5 64.62L219.5 64.57L220.5 64.53L221.5 64.48L222.5 64.43L223.5 64.37L224.5 64.32L225.5 64.27L226.5 64.21L227.5 64.15L228.5 64.09L229.5 64.03L230.5 63.97L231.5 63.91L232.5 63.85L233.5 63.79L234.5 63.72L235.5 63.66L236.5 63.59L237.5 63.52L238.5 63.45L239.5 63.38L240.5 63.31L241.5 63.24L242.5 63.16L243.5 63.09L244.5 63.01L245.5 62.93L246.5 62.85L247.5 62.77L248.5 62.68L249.5 62.59L250.5 62.50L251.5 62.39L252.5 62.28L253.5 62.17L254.5 62.05L255.5 61.94L256.5 61.82L257.5 61.71L258.5 61.58L259.5 61.44L260.5 61.29L261.5 61.10L262.5 60.88L263.5 60.61L264.5 60.30L265.5 59.95L266.5 59.59L267.5 59.22L268.5 58.87L269.5 58.54L270.5 58.24L271.5 57.96L272.5 57.68L273.5 57.40L274.5 57.12L275.5 56.87L276.5 56.63L277.5 56.42L278.5 56.23L279.5 56.08L280.5 55.93L281.5 55.78L282.5 55.64L283.5 55.50L284.5 55.36L285.5 55.22L286.5 55.07L287.5 54.92L288.5 54.78L289.5 54.63L290.5 54.48L291.5 54.32L292.5 54.17L293.5 54.01L294.5 53.84L295.5 53.66L296.5 53.46L297.5 53.23L298.5 52.99L299.5 52.73L300.5 52.47L301.5 52.21L302.5 51.97L303.5 51.74L304.5 51.54L305.5 51.33L306.5 51.13L307.5 50.92L308.5 50.72L309.5 50.51L310.5 50.31L311.5 50.10L312.5 49.90L313.5 49.69L314.5 49.49L315.5 49.28L316.5 49.08L317.5 48.87L318.5 48.67L319.5 48.46L320.5 48.26L321.5 48.06L322.5 47.87L323.5 47.68L324.5 47.50L325.5 47.31L326.5 47.13L327.5 46.94L328.5 46.74L329.5 46.53L330.5 46.28L331.5 46.01L332.5 45.73L333.5 45.46L334.5 45.19L335.5 44.95L336.5 44.73L337.5 44.52L338.5 44.32L339.5 44.13L340.5 43.95L341.5 43.78L342.5 43.62L343.5 43.48L344.5 43.35L345.5 43.24L346.5 43.15L347.5 43.07L348.5 43.01L349.5 42.97L350.5 42.94L351.5 42.92L352.5 42.92L353.5 42.93L354.5 42.96L355.5 43.01L356.5 43.07L357.5 43.13L358.5 43.20L359.5 43.28L360.5 43.36L361.5 43.45L362.5 43.55L363.5 43.65L364.5 43.76L365.5 43.88L366.5 44.01L367.5 44.14L368.5 44.27L369.5 44.42L370.5 44.57L371.5 44.75L372.5 44.95L373.5 45.18L374.5 45.43L375.5 45.70L376.5 45.99L377.5 46.28L378.5 46.58L379.5 46.88L380.5 47.18L381.5 47.49L382.5 47.79L383.5 48.08L384.5 48.37L385.5 48.65L386.5 48.91L387.5 49.17L388.5 49.43L389.5 49.68L390.5 49.93L391.5 50.18L392.5 50.43L393.5 50.69L394.5 50.95L395.5 51.21L396.5 51.48L397.5 51.76L398.5 52.04L399.5 52.33L400.5 52.62L401.5 52.92L402.5 53.22L403.5 53.52L404.5 53.83L405.5 54.14L406.5 54.45L407.5 54.76L408.5 55.08L409.5 55.41L410.5 55.74L411.5 56.08L412.5 56.42L413.5 56.76L414.5 57.09L415.5 57.42L416.5 57.75L417.5 58.06L418.5 58.36L419.5 58.66L420.5 58.94L421.5 59.21L422.5 59.48L423.5 59.74L424.5 59.99L425.5 60.25L426.5 60.50L427.5 60.75L428.5 60.99L429.5 61.21L430.5 61.41L431.5 61.58L432.5 61.73L433.5 61.85L434.5 61.96L435.5 62.07L436.5 62.16L437.5 62.25L438.5 62.33L439.5 62.41L440.5 62.49L441.5 62.56L442.5 62.63L443.5 62.69L444.5 62.76L445.5 62.83L446.5 62.90L447.5 62.96L448.5 63.03L449.5 63.10L450.5 63.17L451.5 63.24L452.5 63.31L453.5 63.39L454.5 63.47L455.5 63.54L456.5 63.62L457.5 63.70L458.5 63.78L459.5 63.86L460.5 63.94L461.5 64.01L462.5 64.09L463.5 64.16L464.5 64.24L465.5 64.30L466.5 64.37L467.5 64.44L468.5 64.50L469.5 64.56L470.5 64.62L471.5 64.67L472.5 64.73L473.5 64.78L474.5 64.84L475.5 64.89L475.7 64.90" fill="none" stroke="#000000" stroke-width="1.45" stroke-linejoin="round"/>
<path d="M261.3 100.20L262.3 100.05L263.3 99.91L264.3 99.76L265.3 99.62L266.3 99.47L267.3 99.32L268.3 99.18L269.3 99.03L270.3 98.89L271.3 98.74L272.3 98.59L273.3 98.45L274.3 98.30L275.3 98.16L276.3 98.01L277.3 97.86L278.3 97.72L279.3 97.57L280.3 97.43L281.3 97.28L282.3 97.14L283.3 96.99L284.3 96.85L285.3 96.70L286.3 96.56L287.3 96.41L288.3 96.27L289.3 96.14L290.3 96.01L291.3 95.90L292.3 95.81L293.3 95.75L294.3 95.71L295.3 95.70L296.3 95.70L297.3 95.70L298.3 95.70L299.3 95.70L300.3 95.70L301.3 95.70L302.3 95.70L303.3 95.70L304.3 95.70L305.3 95.70L306.3 95.70L307.3 95.70L308.3 95.70L309.3 95.70L310.3 95.70L311.3 95.70L312.3 95.70L313.3 95.70L314.3 95.69L315.3 95.65L316.3 95.58L317.3 95.47L318.3 95.33L319.3 95.15L320.3 94.93L321.3 94.68L322.3 94.42L323.3 94.14L324.3 93.87L325.3 93.59L326.3 93.31L327.3 93.05L328.3 92.80L329.3 92.56L330.3 92.32L331.3 92.08L332.3 91.85L333.3 91.61L334.3 91.37L335.3 91.14L336.3 90.90L337.3 90.66L338.3 90.42L339.3 90.17L340.3 89.93L341.3 89.68L342.3 89.43L343.3 89.18L344.3 88.93L345.3 88.68L346.3 88.43L347.3 88.18L348.3 87.93L349.3 87.68L350.3 87.42L351.3 87.17L352.3 86.91L353.3 86.66L354.3 86.40L355.3 86.14L356.3 85.88L357.3 85.62L358.3 85.36L359.3 85.10L360.3 84.84L361.3 84.58L362.3 84.32L363.3 84.07L364.3 83.82L365.3 83.58L366.3 83.35L367.3 83.12L368.3 82.91L369.3 82.70L370.3 82.50L371.3 82.32L372.3 82.17L373.3 82.03L374.3 81.92L375.3 81.81L376.3 81.72L377.3 81.63L378.3 81.54L379.3 81.45L380.3 81.39L381.3 81.34L382.3 81.30L383.3 81.26L384.3 81.22L385.3 81.16L386.3 81.08L387.3 80.96L388.3 80.83L389.3 80.67L390.3 80.50L391.3 80.32L392.3 80.12L393.3 79.92L394.3 79.71L395.3 79.50L396.3 79.28L397.3 79.04L398.3 78.80L399.3 78.55L400.3 78.30L401.3 78.05L402.3 77.81L403.3 77.59L404.3 77.38L405.3 77.19L406.3 77.02L407.3 76.87L408.3 76.74L409.3 76.61L410.3 76.50L411.3 76.41L412.3 76.37L413.3 76.38L414.3 76.42L415.3 76.50L416.3 76.62L417.3 76.78L418.3 77.00L419.3 77.30L420.3 77.70L421.3 78.15L422.3 78.62L423.3 79.08L424.3 79.55L425.3 80.02L426.3 80.48L427.3 80.94L428.3 81.39L429.3 81.84L430.3 82.29L431.3 82.74L432.3 83.19L433.3 83.63L434.3 84.05L435.3 84.44L436.3 84.78L437.3 85.09L438.3 85.36L439.3 85.59L440.3 85.80L441.3 85.99L442.3 86.17L443.3 86.35L444.3 86.52L445.3 86.68L446.3 86.84L447.3 86.99L448.3 87.14L449.3 87.29L450.3 87.42L451.3 87.55L452.3 87.67L453.3 87.79L454.3 87.92L455.3 88.05L456.3 88.19L457.3 88.35L458.3 88.53L459.3 88.72L460.3 88.94L461.3 89.17L462.3 89.42L463.3 89.68L464.3 89.95L465.3 90.23L466.3 90.52L467.3 90.83L468.3 91.16L469.3 91.51L470.3 91.87L471.3 92.24L472.3 92.62L473.3 93.01L474.3 93.40L475.3 93.80L476.3 94.21L477.3 94.65L478.3 95.10L479.3 95.55L480.3 95.99L481.3 96.42L482.3 96.82L483.3 97.19L484.3 97.53L485.3 97.86L486.3 98.15L487.3 98.44L488.3 98.70L489.3 98.95L490.3 99.18L491.3 99.38L492.3 99.57L493.3 99.74L494.3 99.89L495.3 100.01L496.3 100.11L497.3 100.19L497.5 100.20L497.5 100.73L261.3 100.73Z" fill="url(#gx)" opacity="0.65"/>
<g clip-path="url(#c2)" fill="url(#gx)"><use href="#se"/><use href="#so"/></g>
<path d="M261.3 100.20L262.3 100.05L263.3 99.91L264.3 99.76L265.3 99.62L266.3 99.47L267.3 99.32L268.3 99.18L269.3 99.03L270.3 98.89L271.3 98.74L272.3 98.59L273.3 98.45L274.3 98.30L275.3 98.16L276.3 98.01L277.3 97.86L278.3 97.72L279.3 97.57L280.3 97.43L281.3 97.28L282.3 97.14L283.3 96.99L284.3 96.85L285.3 96.70L286.3 96.56L287.3 96.41L288.3 96.27L289.3 96.14L290.3 96.01L291.3 95.90L292.3 95.81L293.3 95.75L294.3 95.71L295.3 95.70L296.3 95.70L297.3 95.70L298.3 95.70L299.3 95.70L300.3 95.70L301.3 95.70L302.3 95.70L303.3 95.70L304.3 95.70L305.3 95.70L306.3 95.70L307.3 95.70L308.3 95.70L309.3 95.70L310.3 95.70L311.3 95.70L312.3 95.70L313.3 95.70L314.3 95.69L315.3 95.65L316.3 95.58L317.3 95.47L318.3 95.33L319.3 95.15L320.3 94.93L321.3 94.68L322.3 94.42L323.3 94.14L324.3 93.87L325.3 93.59L326.3 93.31L327.3 93.05L328.3 92.80L329.3 92.56L330.3 92.32L331.3 92.08L332.3 91.85L333.3 91.61L334.3 91.37L335.3 91.14L336.3 90.90L337.3 90.66L338.3 90.42L339.3 90.17L340.3 89.93L341.3 89.68L342.3 89.43L343.3 89.18L344.3 88.93L345.3 88.68L346.3 88.43L347.3 88.18L348.3 87.93L349.3 87.68L350.3 87.42L351.3 87.17L352.3 86.91L353.3 86.66L354.3 86.40L355.3 86.14L356.3 85.88L357.3 85.62L358.3 85.36L359.3 85.10L360.3 84.84L361.3 84.58L362.3 84.32L363.3 84.07L364.3 83.82L365.3 83.58L366.3 83.35L367.3 83.12L368.3 82.91L369.3 82.70L370.3 82.50L371.3 82.32L372.3 82.17L373.3 82.03L374.3 81.92L375.3 81.81L376.3 81.72L377.3 81.63L378.3 81.54L379.3 81.45L380.3 81.39L381.3 81.34L382.3 81.30L383.3 81.26L384.3 81.22L385.3 81.16L386.3 81.08L387.3 80.96L388.3 80.83L389.3 80.67L390.3 80.50L391.3 80.32L392.3 80.12L393.3 79.92L394.3 79.71L395.3 79.50L396.3 79.28L397.3 79.04L398.3 78.80L399.3 78.55L400.3 78.30L401.3 78.05L402.3 77.81L403.3 77.59L404.3 77.38L405.3 77.19L406.3 77.02L407.3 76.87L408.3 76.74L409.3 76.61L410.3 76.50L411.3 76.41L412.3 76.37L413.3 76.38L414.3 76.42L415.3 76.50L416.3 76.62L417.3 76.78L418.3 77.00L419.3 77.30L420.3 77.70L421.3 78.15L422.3 78.62L423.3 79.08L424.3 79.55L425.3 80.02L426.3 80.48L427.3 80.94L428.3 81.39L429.3 81.84L430.3 82.29L431.3 82.74L432.3 83.19L433.3 83.63L434.3 84.05L435.3 84.44L436.3 84.78L437.3 85.09L438.3 85.36L439.3 85.59L440.3 85.80L441.3 85.99L442.3 86.17L443.3 86.35L444.3 86.52L445.3 86.68L446.3 86.84L447.3 86.99L448.3 87.14L449.3 87.29L450.3 87.42L451.3 87.55L452.3 87.67L453.3 87.79L454.3 87.92L455.3 88.05L456.3 88.19L457.3 88.35L458.3 88.53L459.3 88.72L460.3 88.94L461.3 89.17L462.3 89.42L463.3 89.68L464.3 89.95L465.3 90.23L466.3 90.52L467.3 90.83L468.3 91.16L469.3 91.51L470.3 91.87L471.3 92.24L472.3 92.62L473.3 93.01L474.3 93.40L475.3 93.80L476.3 94.21L477.3 94.65L478.3 95.10L479.3 95.55L480.3 95.99L481.3 96.42L482.3 96.82L483.3 97.19L484.3 97.53L485.3 97.86L486.3 98.15L487.3 98.44L488.3 98.70L489.3 98.95L490.3 99.18L491.3 99.38L492.3 99.57L493.3 99.74L494.3 99.89L495.3 100.01L496.3 100.11L497.3 100.19L497.5 100.20" fill="none" stroke="#000000" stroke-width="1.45" stroke-linejoin="round"/>
<path d="M325.5 135.30L326.5 135.22L327.5 135.14L328.5 135.05L329.5 134.96L330.5 134.85L331.5 134.74L332.5 134.62L333.5 134.49L334.5 134.35L335.5 134.20L336.5 134.03L337.5 133.86L338.5 133.68L339.5 133.50L340.5 133.32L341.5 133.12L342.5 132.92L343.5 132.72L344.5 132.50L345.5 132.28L346.5 132.05L347.5 131.81L348.5 131.57L349.5 131.33L350.5 131.09L351.5 130.85L352.5 130.60L353.5 130.36L354.5 130.12L355.5 129.88L356.5 129.64L357.5 129.39L358.5 129.15L359.5 128.91L360.5 128.67L361.5 128.42L362.5 128.18L363.5 127.93L364.5 127.68L365.5 127.42L366.5 127.17L367.5 126.91L368.5 126.65L369.5 126.39L370.5 126.13L371.5 125.87L372.5 125.61L373.5 125.35L374.5 125.09L375.5 124.83L376.5 124.57L377.5 124.31L378.5 124.05L379.5 123.78L380.5 123.51L381.5 123.25L382.5 122.97L383.5 122.70L384.5 122.42L385.5 122.14L386.5 121.84L387.5 121.51L388.5 121.16L389.5 120.80L390.5 120.42L391.5 120.05L392.5 119.68L393.5 119.31L394.5 118.96L395.5 118.64L396.5 118.32L397.5 118.01L398.5 117.70L399.5 117.40L400.5 117.11L401.5 116.82L402.5 116.54L403.5 116.27L404.5 116.00L405.5 115.75L406.5 115.51L407.5 115.27L408.5 115.05L409.5 114.83L410.5 114.62L411.5 114.42L412.5 114.22L413.5 114.03L414.5 113.85L415.5 113.66L416.5 113.49L417.5 113.33L418.5 113.17L419.5 113.03L420.5 112.89L421.5 112.76L422.5 112.64L423.5 112.52L424.5 112.42L425.5 112.34L426.5 112.28L427.5 112.25L428.5 112.25L429.5 112.27L430.5 112.31L431.5 112.38L432.5 112.49L433.5 112.62L434.5 112.78L435.5 112.97L436.5 113.18L437.5 113.42L438.5 113.70L439.5 113.99L440.5 114.30L441.5 114.62L442.5 114.93L443.5 115.23L444.5 115.50L445.5 115.75L446.5 115.97L447.5 116.18L448.5 116.39L449.5 116.58L450.5 116.77L451.5 116.94L452.5 117.11L453.5 117.27L454.5 117.42L455.5 117.56L456.5 117.68L457.5 117.78L458.5 117.87L459.5 117.93L460.5 117.98L461.5 118.00L462.5 117.99L463.5 117.94L464.5 117.86L465.5 117.74L466.5 117.59L467.5 117.42L468.5 117.24L469.5 117.03L470.5 116.78L471.5 116.50L472.5 116.21L473.5 115.93L474.5 115.67L475.5 115.46L476.5 115.32L477.5 115.23L478.5 115.20L479.5 115.20L480.5 115.25L481.5 115.38L482.5 115.60L483.5 115.92L484.5 116.34L485.5 116.81L486.5 117.33L487.5 117.92L488.5 118.56L489.5 119.26L490.5 119.95L491.5 120.65L492.5 121.34L493.5 122.04L494.5 122.74L495.5 123.44L496.5 124.14L497.5 124.84L498.5 125.55L499.5 126.25L500.5 126.95L501.5 127.65L502.5 128.34L503.5 128.98L504.5 129.58L505.5 130.13L506.5 130.64L507.5 131.13L508.5 131.61L509.5 132.06L510.5 132.49L511.5 132.88L512.5 133.23L513.5 133.55L514.5 133.82L515.5 134.04L516.5 134.24L517.5 134.42L518.5 134.58L519.5 134.72L520.5 134.85L521.5 134.95L522.5 135.04L523.5 135.13L524.5 135.20L525.5 135.26L526.5 135.30L526.7 135.30L526.7 135.89L325.5 135.89Z" fill="url(#gx)" opacity="0.65"/>
<g clip-path="url(#c3)" fill="url(#gx)"><use href="#se"/><use href="#so"/></g>
<path d="M325.5 135.30L326.5 135.22L327.5 135.14L328.5 135.05L329.5 134.96L330.5 134.85L331.5 134.74L332.5 134.62L333.5 134.49L334.5 134.35L335.5 134.20L336.5 134.03L337.5 133.86L338.5 133.68L339.5 133.50L340.5 133.32L341.5 133.12L342.5 132.92L343.5 132.72L344.5 132.50L345.5 132.28L346.5 132.05L347.5 131.81L348.5 131.57L349.5 131.33L350.5 131.09L351.5 130.85L352.5 130.60L353.5 130.36L354.5 130.12L355.5 129.88L356.5 129.64L357.5 129.39L358.5 129.15L359.5 128.91L360.5 128.67L361.5 128.42L362.5 128.18L363.5 127.93L364.5 127.68L365.5 127.42L366.5 127.17L367.5 126.91L368.5 126.65L369.5 126.39L370.5 126.13L371.5 125.87L372.5 125.61L373.5 125.35L374.5 125.09L375.5 124.83L376.5 124.57L377.5 124.31L378.5 124.05L379.5 123.78L380.5 123.51L381.5 123.25L382.5 122.97L383.5 122.70L384.5 122.42L385.5 122.14L386.5 121.84L387.5 121.51L388.5 121.16L389.5 120.80L390.5 120.42L391.5 120.05L392.5 119.68L393.5 119.31L394.5 118.96L395.5 118.64L396.5 118.32L397.5 118.01L398.5 117.70L399.5 117.40L400.5 117.11L401.5 116.82L402.5 116.54L403.5 116.27L404.5 116.00L405.5 115.75L406.5 115.51L407.5 115.27L408.5 115.05L409.5 114.83L410.5 114.62L411.5 114.42L412.5 114.22L413.5 114.03L414.5 113.85L415.5 113.66L416.5 113.49L417.5 113.33L418.5 113.17L419.5 113.03L420.5 112.89L421.5 112.76L422.5 112.64L423.5 112.52L424.5 112.42L425.5 112.34L426.5 112.28L427.5 112.25L428.5 112.25L429.5 112.27L430.5 112.31L431.5 112.38L432.5 112.49L433.5 112.62L434.5 112.78L435.5 112.97L436.5 113.18L437.5 113.42L438.5 113.70L439.5 113.99L440.5 114.30L441.5 114.62L442.5 114.93L443.5 115.23L444.5 115.50L445.5 115.75L446.5 115.97L447.5 116.18L448.5 116.39L449.5 116.58L450.5 116.77L451.5 116.94L452.5 117.11L453.5 117.27L454.5 117.42L455.5 117.56L456.5 117.68L457.5 117.78L458.5 117.87L459.5 117.93L460.5 117.98L461.5 118.00L462.5 117.99L463.5 117.94L464.5 117.86L465.5 117.74L466.5 117.59L467.5 117.42L468.5 117.24L469.5 117.03L470.5 116.78L471.5 116.50L472.5 116.21L473.5 115.93L474.5 115.67L475.5 115.46L476.5 115.32L477.5 115.23L478.5 115.20L479.5 115.20L480.5 115.25L481.5 115.38L482.5 115.60L483.5 115.92L484.5 116.34L485.5 116.81L486.5 117.33L487.5 117.92L488.5 118.56L489.5 119.26L490.5 119.95L491.5 120.65L492.5 121.34L493.5 122.04L494.5 122.74L495.5 123.44L496.5 124.14L497.5 124.84L498.5 125.55L499.5 126.25L500.5 126.95L501.5 127.65L502.5 128.34L503.5 128.98L504.5 129.58L505.5 130.13L506.5 130.64L507.5 131.13L508.5 131.61L509.5 132.06L510.5 132.49L511.5 132.88L512.5 133.23L513.5 133.55L514.5 133.82L515.5 134.04L516.5 134.24L517.5 134.42L518.5 134.58L519.5 134.72L520.5 134.85L521.5 134.95L522.5 135.04L523.5 135.13L524.5 135.20L525.5 135.26L526.5 135.30L526.7 135.30" fill="none" stroke="#000000" stroke-width="1.45" stroke-linejoin="round"/>
<path d="M387.0 170.30L388.0 170.20L389.0 170.09L390.0 169.97L391.0 169.85L392.0 169.72L393.0 169.58L394.0 169.43L395.0 169.28L396.0 169.12L397.0 168.95L398.0 168.77L399.0 168.58L400.0 168.38L401.0 168.17L402.0 167.96L403.0 167.74L404.0 167.52L405.0 167.30L406.0 167.09L407.0 166.88L408.0 166.68L409.0 166.46L410.0 166.20L411.0 165.91L412.0 165.56L413.0 165.14L414.0 164.66L415.0 164.17L416.0 163.67L417.0 163.17L418.0 162.66L419.0 162.16L420.0 161.65L421.0 161.15L422.0 160.65L423.0 160.15L424.0 159.65L425.0 159.15L426.0 158.65L427.0 158.15L428.0 157.66L429.0 157.17L430.0 156.70L431.0 156.27L432.0 155.89L433.0 155.57L434.0 155.29L435.0 155.03L436.0 154.78L437.0 154.54L438.0 154.28L439.0 154.01L440.0 153.75L441.0 153.49L442.0 153.23L443.0 152.98L444.0 152.72L445.0 152.46L446.0 152.19L447.0 151.92L448.0 151.63L449.0 151.34L450.0 151.04L451.0 150.72L452.0 150.37L453.0 150.01L454.0 149.62L455.0 149.20L456.0 148.75L457.0 148.28L458.0 147.79L459.0 147.28L460.0 146.76L461.0 146.23L462.0 145.70L463.0 145.16L464.0 144.62L465.0 144.07L466.0 143.50L467.0 142.93L468.0 142.36L469.0 141.79L470.0 141.24L471.0 140.69L472.0 140.18L473.0 139.69L474.0 139.24L475.0 138.82L476.0 138.43L477.0 138.07L478.0 137.74L479.0 137.47L480.0 137.26L481.0 137.09L482.0 136.96L483.0 136.87L484.0 136.80L485.0 136.76L486.0 136.75L487.0 136.77L488.0 136.82L489.0 136.89L490.0 137.00L491.0 137.14L492.0 137.32L493.0 137.53L494.0 137.79L495.0 138.09L496.0 138.44L497.0 138.82L498.0 139.25L499.0 139.73L500.0 140.26L501.0 140.86L502.0 141.52L503.0 142.26L504.0 143.07L505.0 143.89L506.0 144.73L507.0 145.60L508.0 146.48L509.0 147.38L510.0 148.30L511.0 149.24L512.0 150.20L513.0 151.17L514.0 152.14L515.0 153.11L516.0 154.05L517.0 154.97L518.0 155.87L519.0 156.74L520.0 157.59L521.0 158.43L522.0 159.25L523.0 160.06L524.0 160.86L525.0 161.63L526.0 162.37L527.0 163.07L528.0 163.75L529.0 164.39L530.0 165.00L531.0 165.57L532.0 166.09L533.0 166.57L534.0 167.01L535.0 167.41L536.0 167.77L537.0 168.09L538.0 168.40L539.0 168.69L540.0 168.96L541.0 169.21L542.0 169.44L543.0 169.64L544.0 169.83L545.0 169.99L546.0 170.14L547.0 170.25L547.5 170.30L547.5 171.05L387.0 171.05Z" fill="url(#gx)" opacity="0.65"/>
<g clip-path="url(#c4)" fill="url(#gx)"><use href="#se"/><use href="#so"/></g>
<path d="M387.0 170.30L388.0 170.20L389.0 170.09L390.0 169.97L391.0 169.85L392.0 169.72L393.0 169.58L394.0 169.43L395.0 169.28L396.0 169.12L397.0 168.95L398.0 168.77L399.0 168.58L400.0 168.38L401.0 168.17L402.0 167.96L403.0 167.74L404.0 167.52L405.0 167.30L406.0 167.09L407.0 166.88L408.0 166.68L409.0 166.46L410.0 166.20L411.0 165.91L412.0 165.56L413.0 165.14L414.0 164.66L415.0 164.17L416.0 163.67L417.0 163.17L418.0 162.66L419.0 162.16L420.0 161.65L421.0 161.15L422.0 160.65L423.0 160.15L424.0 159.65L425.0 159.15L426.0 158.65L427.0 158.15L428.0 157.66L429.0 157.17L430.0 156.70L431.0 156.27L432.0 155.89L433.0 155.57L434.0 155.29L435.0 155.03L436.0 154.78L437.0 154.54L438.0 154.28L439.0 154.01L440.0 153.75L441.0 153.49L442.0 153.23L443.0 152.98L444.0 152.72L445.0 152.46L446.0 152.19L447.0 151.92L448.0 151.63L449.0 151.34L450.0 151.04L451.0 150.72L452.0 150.37L453.0 150.01L454.0 149.62L455.0 149.20L456.0 148.75L457.0 148.28L458.0 147.79L459.0 147.28L460.0 146.76L461.0 146.23L462.0 145.70L463.0 145.16L464.0 144.62L465.0 144.07L466.0 143.50L467.0 142.93L468.0 142.36L469.0 141.79L470.0 141.24L471.0 140.69L472.0 140.18L473.0 139.69L474.0 139.24L475.0 138.82L476.0 138.43L477.0 138.07L478.0 137.74L479.0 137.47L480.0 137.26L481.0 137.09L482.0 136.96L483.0 136.87L484.0 136.80L485.0 136.76L486.0 136.75L487.0 136.77L488.0 136.82L489.0 136.89L490.0 137.00L491.0 137.14L492.0 137.32L493.0 137.53L494.0 137.79L495.0 138.09L496.0 138.44L497.0 138.82L498.0 139.25L499.0 139.73L500.0 140.26L501.0 140.86L502.0 141.52L503.0 142.26L504.0 143.07L505.0 143.89L506.0 144.73L507.0 145.60L508.0 146.48L509.0 147.38L510.0 148.30L511.0 149.24L512.0 150.20L513.0 151.17L514.0 152.14L515.0 153.11L516.0 154.05L517.0 154.97L518.0 155.87L519.0 156.74L520.0 157.59L521.0 158.43L522.0 159.25L523.0 160.06L524.0 160.86L525.0 161.63L526.0 162.37L527.0 163.07L528.0 163.75L529.0 164.39L530.0 165.00L531.0 165.57L532.0 166.09L533.0 166.57L534.0 167.01L535.0 167.41L536.0 167.77L537.0 168.09L538.0 168.40L539.0 168.69L540.0 168.96L541.0 169.21L542.0 169.44L543.0 169.64L544.0 169.83L545.0 169.99L546.0 170.14L547.0 170.25L547.5 170.30" fill="none" stroke="#000000" stroke-width="1.45" stroke-linejoin="round"/>
<path d="M393.3 205.50L394.3 205.47L395.3 205.42L396.3 205.38L397.3 205.32L398.3 205.26L399.3 205.19L400.3 205.11L401.3 205.04L402.3 204.95L403.3 204.86L404.3 204.77L405.3 204.67L406.3 204.56L407.3 204.44L408.3 204.30L409.3 204.16L410.3 204.00L411.3 203.84L412.3 203.67L413.3 203.50L414.3 203.31L415.3 203.10L416.3 202.87L417.3 202.62L418.3 202.35L419.3 202.06L420.3 201.75L421.3 201.43L422.3 201.10L423.3 200.73L424.3 200.34L425.3 199.90L426.3 199.43L427.3 198.90L428.3 198.32L429.3 197.68L430.3 196.99L431.3 196.26L432.3 195.51L433.3 194.76L434.3 193.98L435.3 193.20L436.3 192.41L437.3 191.61L438.3 190.80L439.3 189.98L440.3 189.15L441.3 188.31L442.3 187.47L443.3 186.62L444.3 185.78L445.3 184.95L446.3 184.12L447.3 183.33L448.3 182.58L449.3 181.88L450.3 181.22L451.3 180.61L452.3 180.04L453.3 179.50L454.3 179.01L455.3 178.58L456.3 178.23L457.3 177.96L458.3 177.78L459.3 177.70L460.3 177.71L461.3 177.77L462.3 177.83L463.3 177.92L464.3 178.01L465.3 178.12L466.3 178.25L467.3 178.38L468.3 178.53L469.3 178.70L470.3 178.86L471.3 179.02L472.3 179.17L473.3 179.30L474.3 179.39L475.3 179.43L476.3 179.43L477.3 179.39L478.3 179.32L479.3 179.22L480.3 179.07L481.3 178.86L482.3 178.57L483.3 178.20L484.3 177.76L485.3 177.29L486.3 176.80L487.3 176.30L488.3 175.80L489.3 175.32L490.3 174.87L491.3 174.43L492.3 174.00L493.3 173.59L494.3 173.19L495.3 172.81L496.3 172.44L497.3 172.12L498.3 171.93L499.3 171.86L500.3 171.88L501.3 171.96L502.3 172.07L503.3 172.24L504.3 172.51L505.3 172.90L506.3 173.44L507.3 174.13L508.3 174.87L509.3 175.66L510.3 176.48L511.3 177.35L512.3 178.26L513.3 179.20L514.3 180.16L515.3 181.13L516.3 182.11L517.3 183.09L518.3 184.08L519.3 185.09L520.3 186.11L521.3 187.16L522.3 188.25L523.3 189.34L524.3 190.44L525.3 191.53L526.3 192.59L527.3 193.61L528.3 194.57L529.3 195.49L530.3 196.36L531.3 197.19L532.3 197.96L533.3 198.70L534.3 199.39L535.3 200.04L536.3 200.64L537.3 201.20L538.3 201.72L539.3 202.19L540.3 202.63L541.3 203.04L542.3 203.42L543.3 203.78L544.3 204.10L545.3 204.38L546.3 204.64L547.3 204.88L548.3 205.10L549.3 205.29L550.0 205.40L550.0 206.22L393.3 206.22Z" fill="url(#gx)" opacity="0.65"/>
<g clip-path="url(#c5)" fill="url(#gx)"><use href="#se"/><use href="#so"/></g>
<path d="M393.3 205.50L394.3 205.47L395.3 205.42L396.3 205.38L397.3 205.32L398.3 205.26L399.3 205.19L400.3 205.11L401.3 205.04L402.3 204.95L403.3 204.86L404.3 204.77L405.3 204.67L406.3 204.56L407.3 204.44L408.3 204.30L409.3 204.16L410.3 204.00L411.3 203.84L412.3 203.67L413.3 203.50L414.3 203.31L415.3 203.10L416.3 202.87L417.3 202.62L418.3 202.35L419.3 202.06L420.3 201.75L421.3 201.43L422.3 201.10L423.3 200.73L424.3 200.34L425.3 199.90L426.3 199.43L427.3 198.90L428.3 198.32L429.3 197.68L430.3 196.99L431.3 196.26L432.3 195.51L433.3 194.76L434.3 193.98L435.3 193.20L436.3 192.41L437.3 191.61L438.3 190.80L439.3 189.98L440.3 189.15L441.3 188.31L442.3 187.47L443.3 186.62L444.3 185.78L445.3 184.95L446.3 184.12L447.3 183.33L448.3 182.58L449.3 181.88L450.3 181.22L451.3 180.61L452.3 180.04L453.3 179.50L454.3 179.01L455.3 178.58L456.3 178.23L457.3 177.96L458.3 177.78L459.3 177.70L460.3 177.71L461.3 177.77L462.3 177.83L463.3 177.92L464.3 178.01L465.3 178.12L466.3 178.25L467.3 178.38L468.3 178.53L469.3 178.70L470.3 178.86L471.3 179.02L472.3 179.17L473.3 179.30L474.3 179.39L475.3 179.43L476.3 179.43L477.3 179.39L478.3 179.32L479.3 179.22L480.3 179.07L481.3 178.86L482.3 178.57L483.3 178.20L484.3 177.76L485.3 177.29L486.3 176.80L487.3 176.30L488.3 175.80L489.3 175.32L490.3 174.87L491.3 174.43L492.3 174.00L493.3 173.59L494.3 173.19L495.3 172.81L496.3 172.44L497.3 172.12L498.3 171.93L499.3 171.86L500.3 171.88L501.3 171.96L502.3 172.07L503.3 172.24L504.3 172.51L505.3 172.90L506.3 173.44L507.3 174.13L508.3 174.87L509.3 175.66L510.3 176.48L511.3 177.35L512.3 178.26L513.3 179.20L514.3 180.16L515.3 181.13L516.3 182.11L517.3 183.09L518.3 184.08L519.3 185.09L520.3 186.11L521.3 187.16L522.3 188.25L523.3 189.34L524.3 190.44L525.3 191.53L526.3 192.59L527.3 193.61L528.3 194.57L529.3 195.49L530.3 196.36L531.3 197.19L532.3 197.96L533.3 198.70L534.3 199.39L535.3 200.04L536.3 200.64L537.3 201.20L538.3 201.72L539.3 202.19L540.3 202.63L541.3 203.04L542.3 203.42L543.3 203.78L544.3 204.10L545.3 204.38L546.3 204.64L547.3 204.88L548.3 205.10L549.3 205.29L550.0 205.40" fill="none" stroke="#000000" stroke-width="1.45" stroke-linejoin="round"/>
<path d="M350.8 240.70L351.8 240.66L352.8 240.62L353.8 240.57L354.8 240.51L355.8 240.45L356.8 240.37L357.8 240.29L358.8 240.21L359.8 240.11L360.8 240.00L361.8 239.89L362.8 239.77L363.8 239.63L364.8 239.49L365.8 239.34L366.8 239.19L367.8 239.02L368.8 238.85L369.8 238.68L370.8 238.49L371.8 238.30L372.8 238.10L373.8 237.90L374.8 237.68L375.8 237.45L376.8 237.21L377.8 236.97L378.8 236.73L379.8 236.49L380.8 236.25L381.8 236.02L382.8 235.80L383.8 235.60L384.8 235.40L385.8 235.21L386.8 235.03L387.8 234.86L388.8 234.70L389.8 234.55L390.8 234.42L391.8 234.29L392.8 234.18L393.8 234.10L394.8 234.04L395.8 233.98L396.8 233.93L397.8 233.88L398.8 233.81L399.8 233.72L400.8 233.61L401.8 233.50L402.8 233.37L403.8 233.24L404.8 233.09L405.8 232.94L406.8 232.77L407.8 232.59L408.8 232.40L409.8 232.20L410.8 231.99L411.8 231.75L412.8 231.50L413.8 231.23L414.8 230.94L415.8 230.61L416.8 230.26L417.8 229.90L418.8 229.53L419.8 229.16L420.8 228.79L421.8 228.41L422.8 228.04L423.8 227.66L424.8 227.28L425.8 226.89L426.8 226.51L427.8 226.13L428.8 225.74L429.8 225.36L430.8 224.97L431.8 224.58L432.8 224.18L433.8 223.77L434.8 223.35L435.8 222.91L436.8 222.46L437.8 221.99L438.8 221.50L439.8 221.00L440.8 220.49L441.8 219.95L442.8 219.41L443.8 218.85L444.8 218.29L445.8 217.73L446.8 217.17L447.8 216.61L448.8 216.05L449.8 215.51L450.8 214.97L451.8 214.44L452.8 213.92L453.8 213.40L454.8 212.88L455.8 212.37L456.8 211.87L457.8 211.37L458.8 210.88L459.8 210.40L460.8 209.93L461.8 209.51L462.8 209.12L463.8 208.77L464.8 208.44L465.8 208.14L466.8 207.85L467.8 207.58L468.8 207.32L469.8 207.05L470.8 206.80L471.8 206.58L472.8 206.39L473.8 206.23L474.8 206.10L475.8 205.99L476.8 205.90L477.8 205.83L478.8 205.78L479.8 205.82L480.8 205.92L481.8 206.09L482.8 206.32L483.8 206.61L484.8 206.93L485.8 207.29L486.8 207.69L487.8 208.17L488.8 208.76L489.8 209.47L490.8 210.35L491.8 211.42L492.8 212.58L493.8 213.76L494.8 214.95L495.8 216.15L496.8 217.37L497.8 218.59L498.8 219.81L499.8 221.05L500.8 222.30L501.8 223.54L502.8 224.79L503.8 226.03L504.8 227.26L505.8 228.45L506.8 229.57L507.8 230.63L508.8 231.63L509.8 232.56L510.8 233.45L511.8 234.28L512.8 235.05L513.8 235.74L514.8 236.36L515.8 236.91L516.8 237.40L517.8 237.81L518.8 238.18L519.8 238.51L520.8 238.82L521.8 239.11L522.8 239.36L523.8 239.58L524.8 239.77L525.8 239.92L526.8 240.07L527.8 240.20L528.8 240.32L529.8 240.42L530.8 240.50L531.8 240.56L532.8 240.60L533.0 240.60L533.0 241.38L350.8 241.38Z" fill="url(#gx)" opacity="0.65"/>
<g clip-path="url(#c6)" fill="url(#gx)"><use href="#se"/><use href="#so"/></g>
<path d="M350.8 240.70L351.8 240.66L352.8 240.62L353.8 240.57L354.8 240.51L355.8 240.45L356.8 240.37L357.8 240.29L358.8 240.21L359.8 240.11L360.8 240.00L361.8 239.89L362.8 239.77L363.8 239.63L364.8 239.49L365.8 239.34L366.8 239.19L367.8 239.02L368.8 238.85L369.8 238.68L370.8 238.49L371.8 238.30L372.8 238.10L373.8 237.90L374.8 237.68L375.8 237.45L376.8 237.21L377.8 236.97L378.8 236.73L379.8 236.49L380.8 236.25L381.8 236.02L382.8 235.80L383.8 235.60L384.8 235.40L385.8 235.21L386.8 235.03L387.8 234.86L388.8 234.70L389.8 234.55L390.8 234.42L391.8 234.29L392.8 234.18L393.8 234.10L394.8 234.04L395.8 233.98L396.8 233.93L397.8 233.88L398.8 233.81L399.8 233.72L400.8 233.61L401.8 233.50L402.8 233.37L403.8 233.24L404.8 233.09L405.8 232.94L406.8 232.77L407.8 232.59L408.8 232.40L409.8 232.20L410.8 231.99L411.8 231.75L412.8 231.50L413.8 231.23L414.8 230.94L415.8 230.61L416.8 230.26L417.8 229.90L418.8 229.53L419.8 229.16L420.8 228.79L421.8 228.41L422.8 228.04L423.8 227.66L424.8 227.28L425.8 226.89L426.8 226.51L427.8 226.13L428.8 225.74L429.8 225.36L430.8 224.97L431.8 224.58L432.8 224.18L433.8 223.77L434.8 223.35L435.8 222.91L436.8 222.46L437.8 221.99L438.8 221.50L439.8 221.00L440.8 220.49L441.8 219.95L442.8 219.41L443.8 218.85L444.8 218.29L445.8 217.73L446.8 217.17L447.8 216.61L448.8 216.05L449.8 215.51L450.8 214.97L451.8 214.44L452.8 213.92L453.8 213.40L454.8 212.88L455.8 212.37L456.8 211.87L457.8 211.37L458.8 210.88L459.8 210.40L460.8 209.93L461.8 209.51L462.8 209.12L463.8 208.77L464.8 208.44L465.8 208.14L466.8 207.85L467.8 207.58L468.8 207.32L469.8 207.05L470.8 206.80L471.8 206.58L472.8 206.39L473.8 206.23L474.8 206.10L475.8 205.99L476.8 205.90L477.8 205.83L478.8 205.78L479.8 205.82L480.8 205.92L481.8 206.09L482.8 206.32L483.8 206.61L484.8 206.93L485.8 207.29L486.8 207.69L487.8 208.17L488.8 208.76L489.8 209.47L490.8 210.35L491.8 211.42L492.8 212.58L493.8 213.76L494.8 214.95L495.8 216.15L496.8 217.37L497.8 218.59L498.8 219.81L499.8 221.05L500.8 222.30L501.8 223.54L502.8 224.79L503.8 226.03L504.8 227.26L505.8 228.45L506.8 229.57L507.8 230.63L508.8 231.63L509.8 232.56L510.8 233.45L511.8 234.28L512.8 235.05L513.8 235.74L514.8 236.36L515.8 236.91L516.8 237.40L517.8 237.81L518.8 238.18L519.8 238.51L520.8 238.82L521.8 239.11L522.8 239.36L523.8 239.58L524.8 239.77L525.8 239.92L526.8 240.07L527.8 240.20L528.8 240.32L529.8 240.42L530.8 240.50L531.8 240.56L532.8 240.60L533.0 240.60" fill="none" stroke="#000000" stroke-width="1.45" stroke-linejoin="round"/>
<path d="M336.3 275.80L337.3 275.77L338.3 275.73L339.3 275.67L340.3 275.60L341.3 275.51L342.3 275.41L343.3 275.30L344.3 275.17L345.3 275.03L346.3 274.87L347.3 274.69L348.3 274.51L349.3 274.30L350.3 274.08L351.3 273.85L352.3 273.59L353.3 273.32L354.3 273.02L355.3 272.70L356.3 272.38L357.3 272.04L358.3 271.70L359.3 271.34L360.3 270.96L361.3 270.57L362.3 270.15L363.3 269.70L364.3 269.24L365.3 268.78L366.3 268.31L367.3 267.85L368.3 267.38L369.3 266.91L370.3 266.45L371.3 265.98L372.3 265.52L373.3 265.06L374.3 264.60L375.3 264.14L376.3 263.68L377.3 263.22L378.3 262.77L379.3 262.31L380.3 261.87L381.3 261.47L382.3 261.14L383.3 260.84L384.3 260.58L385.3 260.33L386.3 260.10L387.3 259.86L388.3 259.65L389.3 259.46L390.3 259.27L391.3 259.09L392.3 258.91L393.3 258.71L394.3 258.48L395.3 258.22L396.3 257.94L397.3 257.66L398.3 257.36L399.3 257.05L400.3 256.73L401.3 256.40L402.3 256.06L403.3 255.70L404.3 255.33L405.3 254.96L406.3 254.57L407.3 254.18L408.3 253.80L409.3 253.41L410.3 253.02L411.3 252.65L412.3 252.28L413.3 251.92L414.3 251.56L415.3 251.22L416.3 250.88L417.3 250.54L418.3 250.22L419.3 249.91L420.3 249.61L421.3 249.35L422.3 249.13L423.3 248.95L424.3 248.79L425.3 248.66L426.3 248.54L427.3 248.44L428.3 248.33L429.3 248.25L430.3 248.19L431.3 248.16L432.3 248.16L433.3 248.22L434.3 248.29L435.3 248.37L436.3 248.45L437.3 248.54L438.3 248.63L439.3 248.73L440.3 248.83L441.3 248.93L442.3 249.04L443.3 249.15L444.3 249.25L445.3 249.36L446.3 249.46L447.3 249.56L448.3 249.65L449.3 249.73L450.3 249.80L451.3 249.87L452.3 249.94L453.3 250.00L454.3 250.03L455.3 250.02L456.3 249.97L457.3 249.90L458.3 249.84L459.3 249.80L460.3 249.81L461.3 249.86L462.3 249.98L463.3 250.19L464.3 250.51L465.3 250.94L466.3 251.49L467.3 252.12L468.3 252.83L469.3 253.61L470.3 254.46L471.3 255.32L472.3 256.18L473.3 257.05L474.3 257.91L475.3 258.78L476.3 259.65L477.3 260.52L478.3 261.40L479.3 262.28L480.3 263.17L481.3 264.05L482.3 264.92L483.3 265.80L484.3 266.65L485.3 267.46L486.3 268.23L487.3 268.97L488.3 269.67L489.3 270.34L490.3 270.99L491.3 271.59L492.3 272.14L493.3 272.64L494.3 273.09L495.3 273.50L496.3 273.86L497.3 274.19L498.3 274.50L499.3 274.77L500.3 275.01L501.3 275.23L502.3 275.40L503.3 275.56L504.3 275.69L505.3 275.79L505.5 275.80L505.5 276.55L336.3 276.55Z" fill="url(#gx)" opacity="0.65"/>
<g clip-path="url(#c7)" fill="url(#gx)"><use href="#se"/><use href="#so"/></g>
<path d="M336.3 275.80L337.3 275.77L338.3 275.73L339.3 275.67L340.3 275.60L341.3 275.51L342.3 275.41L343.3 275.30L344.3 275.17L345.3 275.03L346.3 274.87L347.3 274.69L348.3 274.51L349.3 274.30L350.3 274.08L351.3 273.85L352.3 273.59L353.3 273.32L354.3 273.02L355.3 272.70L356.3 272.38L357.3 272.04L358.3 271.70L359.3 271.34L360.3 270.96L361.3 270.57L362.3 270.15L363.3 269.70L364.3 269.24L365.3 268.78L366.3 268.31L367.3 267.85L368.3 267.38L369.3 266.91L370.3 266.45L371.3 265.98L372.3 265.52L373.3 265.06L374.3 264.60L375.3 264.14L376.3 263.68L377.3 263.22L378.3 262.77L379.3 262.31L380.3 261.87L381.3 261.47L382.3 261.14L383.3 260.84L384.3 260.58L385.3 260.33L386.3 260.10L387.3 259.86L388.3 259.65L389.3 259.46L390.3 259.27L391.3 259.09L392.3 258.91L393.3 258.71L394.3 258.48L395.3 258.22L396.3 257.94L397.3 257.66L398.3 257.36L399.3 257.05L400.3 256.73L401.3 256.40L402.3 256.06L403.3 255.70L404.3 255.33L405.3 254.96L406.3 254.57L407.3 254.18L408.3 253.80L409.3 253.41L410.3 253.02L411.3 252.65L412.3 252.28L413.3 251.92L414.3 251.56L415.3 251.22L416.3 250.88L417.3 250.54L418.3 250.22L419.3 249.91L420.3 249.61L421.3 249.35L422.3 249.13L423.3 248.95L424.3 248.79L425.3 248.66L426.3 248.54L427.3 248.44L428.3 248.33L429.3 248.25L430.3 248.19L431.3 248.16L432.3 248.16L433.3 248.22L434.3 248.29L435.3 248.37L436.3 248.45L437.3 248.54L438.3 248.63L439.3 248.73L440.3 248.83L441.3 248.93L442.3 249.04L443.3 249.15L444.3 249.25L445.3 249.36L446.3 249.46L447.3 249.56L448.3 249.65L449.3 249.73L450.3 249.80L451.3 249.87L452.3 249.94L453.3 250.00L454.3 250.03L455.3 250.02L456.3 249.97L457.3 249.90L458.3 249.84L459.3 249.80L460.3 249.81L461.3 249.86L462.3 249.98L463.3 250.19L464.3 250.51L465.3 250.94L466.3 251.49L467.3 252.12L468.3 252.83L469.3 253.61L470.3 254.46L471.3 255.32L472.3 256.18L473.3 257.05L474.3 257.91L475.3 258.78L476.3 259.65L477.3 260.52L478.3 261.40L479.3 262.28L480.3 263.17L481.3 264.05L482.3 264.92L483.3 265.80L484.3 266.65L485.3 267.46L486.3 268.23L487.3 268.97L488.3 269.67L489.3 270.34L490.3 270.99L491.3 271.59L492.3 272.14L493.3 272.64L494.3 273.09L495.3 273.50L496.3 273.86L497.3 274.19L498.3 274.50L499.3 274.77L500.3 275.01L501.3 275.23L502.3 275.40L503.3 275.56L504.3 275.69L505.3 275.79L505.5 275.80" fill="none" stroke="#000000" stroke-width="1.45" stroke-linejoin="round"/>
<path d="M271.2 311.00L272.2 310.90L273.2 310.79L274.2 310.68L275.2 310.57L276.2 310.45L277.2 310.32L278.2 310.19L279.2 310.06L280.2 309.92L281.2 309.78L282.2 309.62L283.2 309.46L284.2 309.30L285.2 309.12L286.2 308.95L287.2 308.77L288.2 308.59L289.2 308.42L290.2 308.25L291.2 308.08L292.2 307.92L293.2 307.79L294.2 307.66L295.2 307.52L296.2 307.37L297.2 307.19L298.2 307.01L299.2 306.81L300.2 306.60L301.2 306.38L302.2 306.14L303.2 305.89L304.2 305.63L305.2 305.36L306.2 305.08L307.2 304.81L308.2 304.54L309.2 304.26L310.2 303.99L311.2 303.71L312.2 303.44L313.2 303.16L314.2 302.88L315.2 302.61L316.2 302.33L317.2 302.05L318.2 301.78L319.2 301.50L320.2 301.22L321.2 300.94L322.2 300.67L323.2 300.40L324.2 300.13L325.2 299.86L326.2 299.60L327.2 299.34L328.2 299.08L329.2 298.83L330.2 298.58L331.2 298.34L332.2 298.11L333.2 297.89L334.2 297.68L335.2 297.47L336.2 297.28L337.2 297.09L338.2 296.90L339.2 296.72L340.2 296.54L341.2 296.36L342.2 296.19L343.2 296.02L344.2 295.85L345.2 295.68L346.2 295.51L347.2 295.35L348.2 295.18L349.2 295.02L350.2 294.85L351.2 294.69L352.2 294.53L353.2 294.37L354.2 294.22L355.2 294.06L356.2 293.92L357.2 293.77L358.2 293.63L359.2 293.52L360.2 293.44L361.2 293.38L362.2 293.34L363.2 293.32L364.2 293.30L365.2 293.30L366.2 293.33L367.2 293.38L368.2 293.43L369.2 293.47L370.2 293.50L371.2 293.50L372.2 293.48L373.2 293.45L374.2 293.42L375.2 293.37L376.2 293.31L377.2 293.24L378.2 293.15L379.2 293.05L380.2 292.92L381.2 292.78L382.2 292.64L383.2 292.50L384.2 292.38L385.2 292.27L386.2 292.19L387.2 292.12L388.2 292.06L389.2 292.02L390.2 291.97L391.2 291.94L392.2 291.90L393.2 291.85L394.2 291.81L395.2 291.75L396.2 291.69L397.2 291.61L398.2 291.54L399.2 291.45L400.2 291.36L401.2 291.26L402.2 291.16L403.2 291.04L404.2 290.90L405.2 290.73L406.2 290.55L407.2 290.36L408.2 290.16L409.2 289.92L410.2 289.64L411.2 289.34L412.2 289.06L413.2 288.82L414.2 288.63L415.2 288.49L416.2 288.38L417.2 288.32L418.2 288.28L419.2 288.28L420.2 288.31L421.2 288.36L422.2 288.45L423.2 288.56L424.2 288.71L425.2 288.88L426.2 289.09L427.2 289.32L428.2 289.57L429.2 289.84L430.2 290.13L431.2 290.45L432.2 290.79L433.2 291.16L434.2 291.55L435.2 291.95L436.2 292.36L437.2 292.80L438.2 293.26L439.2 293.77L440.2 294.31L441.2 294.88L442.2 295.44L443.2 296.01L444.2 296.58L445.2 297.15L446.2 297.72L447.2 298.28L448.2 298.84L449.2 299.41L450.2 299.97L451.2 300.53L452.2 301.09L453.2 301.64L454.2 302.19L455.2 302.72L456.2 303.22L457.2 303.71L458.2 304.18L459.2 304.64L460.2 305.09L461.2 305.51L462.2 305.92L463.2 306.30L464.2 306.66L465.2 307.00L466.2 307.34L467.2 307.66L468.2 307.97L469.2 308.28L470.2 308.56L471.2 308.82L472.2 309.07L473.2 309.28L474.2 309.47L475.2 309.65L476.2 309.81L477.2 309.96L478.2 310.09L479.2 310.21L480.2 310.32L481.2 310.43L482.2 310.53L483.2 310.62L484.2 310.71L485.2 310.79L486.2 310.87L487.2 310.94L488.2 310.99L488.3 311.00L488.3 311.71L271.2 311.71Z" fill="url(#gx)" opacity="0.65"/>
<g clip-path="url(#c8)" fill="url(#gx)"><use href="#se"/><use href="#so"/></g>
<path d="M271.2 311.00L272.2 310.90L273.2 310.79L274.2 310.68L275.2 310.57L276.2 310.45L277.2 310.32L278.2 310.19L279.2 310.06L280.2 309.92L281.2 309.78L282.2 309.62L283.2 309.46L284.2 309.30L285.2 309.12L286.2 308.95L287.2 308.77L288.2 308.59L289.2 308.42L290.2 308.25L291.2 308.08L292.2 307.92L293.2 307.79L294.2 307.66L295.2 307.52L296.2 307.37L297.2 307.19L298.2 307.01L299.2 306.81L300.2 306.60L301.2 306.38L302.2 306.14L303.2 305.89L304.2 305.63L305.2 305.36L306.2 305.08L307.2 304.81L308.2 304.54L309.2 304.26L310.2 303.99L311.2 303.71L312.2 303.44L313.2 303.16L314.2 302.88L315.2 302.61L316.2 302.33L317.2 302.05L318.2 301.78L319.2 301.50L320.2 301.22L321.2 300.94L322.2 300.67L323.2 300.40L324.2 300.13L325.2 299.86L326.2 299.60L327.2 299.34L328.2 299.08L329.2 298.83L330.2 298.58L331.2 298.34L332.2 298.11L333.2 297.89L334.2 297.68L335.2 297.47L336.2 297.28L337.2 297.09L338.2 296.90L339.2 296.72L340.2 296.54L341.2 296.36L342.2 296.19L343.2 296.02L344.2 295.85L345.2 295.68L346.2 295.51L347.2 295.35L348.2 295.18L349.2 295.02L350.2 294.85L351.2 294.69L352.2 294.53L353.2 294.37L354.2 294.22L355.2 294.06L356.2 293.92L357.2 293.77L358.2 293.63L359.2 293.52L360.2 293.44L361.2 293.38L362.2 293.34L363.2 293.32L364.2 293.30L365.2 293.30L366.2 293.33L367.2 293.38L368.2 293.43L369.2 293.47L370.2 293.50L371.2 293.50L372.2 293.48L373.2 293.45L374.2 293.42L375.2 293.37L376.2 293.31L377.2 293.24L378.2 293.15L379.2 293.05L380.2 292.92L381.2 292.78L382.2 292.64L383.2 292.50L384.2 292.38L385.2 292.27L386.2 292.19L387.2 292.12L388.2 292.06L389.2 292.02L390.2 291.97L391.2 291.94L392.2 291.90L393.2 291.85L394.2 291.81L395.2 291.75L396.2 291.69L397.2 291.61L398.2 291.54L399.2 291.45L400.2 291.36L401.2 291.26L402.2 291.16L403.2 291.04L404.2 290.90L405.2 290.73L406.2 290.55L407.2 290.36L408.2 290.16L409.2 289.92L410.2 289.64L411.2 289.34L412.2 289.06L413.2 288.82L414.2 288.63L415.2 288.49L416.2 288.38L417.2 288.32L418.2 288.28L419.2 288.28L420.2 288.31L421.2 288.36L422.2 288.45L423.2 288.56L424.2 288.71L425.2 288.88L426.2 289.09L427.2 289.32L428.2 289.57L429.2 289.84L430.2 290.13L431.2 290.45L432.2 290.79L433.2 291.16L434.2 291.55L435.2 291.95L436.2 292.36L437.2 292.80L438.2 293.26L439.2 293.77L440.2 294.31L441.2 294.88L442.2 295.44L443.2 296.01L444.2 296.58L445.2 297.15L446.2 297.72L447.2 298.28L448.2 298.84L449.2 299.41L450.2 299.97L451.2 300.53L452.2 301.09L453.2 301.64L454.2 302.19L455.2 302.72L456.2 303.22L457.2 303.71L458.2 304.18L459.2 304.64L460.2 305.09L461.2 305.51L462.2 305.92L463.2 306.30L464.2 306.66L465.2 307.00L466.2 307.34L467.2 307.66L468.2 307.97L469.2 308.28L470.2 308.56L471.2 308.82L472.2 309.07L473.2 309.28L474.2 309.47L475.2 309.65L476.2 309.81L477.2 309.96L478.2 310.09L479.2 310.21L480.2 310.32L481.2 310.43L482.2 310.53L483.2 310.62L484.2 310.71L485.2 310.79L486.2 310.87L487.2 310.94L488.2 310.99L488.3 311.00" fill="none" stroke="#000000" stroke-width="1.45" stroke-linejoin="round"/>
<path d="M196.3 346.20L197.3 346.15L198.3 346.11L199.3 346.05L200.3 346.00L201.3 345.94L202.3 345.87L203.3 345.80L204.3 345.72L205.3 345.64L206.3 345.54L207.3 345.44L208.3 345.33L209.3 345.22L210.3 345.10L211.3 344.99L212.3 344.87L213.3 344.76L214.3 344.64L215.3 344.53L216.3 344.42L217.3 344.31L218.3 344.20L219.3 344.09L220.3 343.99L221.3 343.88L222.3 343.78L223.3 343.67L224.3 343.56L225.3 343.46L226.3 343.36L227.3 343.26L228.3 343.16L229.3 343.06L230.3 342.97L231.3 342.88L232.3 342.79L233.3 342.71L234.3 342.62L235.3 342.54L236.3 342.45L237.3 342.37L238.3 342.28L239.3 342.20L240.3 342.12L241.3 342.03L242.3 341.95L243.3 341.87L244.3 341.79L245.3 341.71L246.3 341.63L247.3 341.55L248.3 341.47L249.3 341.39L250.3 341.31L251.3 341.23L252.3 341.15L253.3 341.05L254.3 340.93L255.3 340.80L256.3 340.66L257.3 340.50L258.3 340.32L259.3 340.14L260.3 339.94L261.3 339.71L262.3 339.46L263.3 339.18L264.3 338.87L265.3 338.53L266.3 338.16L267.3 337.76L268.3 337.36L269.3 336.96L270.3 336.55L271.3 336.13L272.3 335.72L273.3 335.30L274.3 334.88L275.3 334.45L276.3 334.02L277.3 333.59L278.3 333.15L279.3 332.72L280.3 332.29L281.3 331.87L282.3 331.45L283.3 331.04L284.3 330.65L285.3 330.27L286.3 329.92L287.3 329.58L288.3 329.27L289.3 328.98L290.3 328.73L291.3 328.50L292.3 328.31L293.3 328.14L294.3 327.99L295.3 327.86L296.3 327.73L297.3 327.60L298.3 327.47L299.3 327.36L300.3 327.26L301.3 327.17L302.3 327.11L303.3 327.07L304.3 327.07L305.3 327.08L306.3 327.11L307.3 327.16L308.3 327.23L309.3 327.30L310.3 327.37L311.3 327.45L312.3 327.53L313.3 327.63L314.3 327.74L315.3 327.87L316.3 328.03L317.3 328.21L318.3 328.43L319.3 328.67L320.3 328.91L321.3 329.15L322.3 329.40L323.3 329.65L324.3 329.89L325.3 330.13L326.3 330.37L327.3 330.60L328.3 330.83L329.3 331.06L330.3 331.29L331.3 331.51L332.3 331.72L333.3 331.91L334.3 332.06L335.3 332.17L336.3 332.24L337.3 332.28L338.3 332.30L339.3 332.30L340.3 332.29L341.3 332.27L342.3 332.25L343.3 332.22L344.3 332.18L345.3 332.14L346.3 332.08L347.3 332.03L348.3 331.96L349.3 331.88L350.3 331.79L351.3 331.70L352.3 331.60L353.3 331.51L354.3 331.42L355.3 331.34L356.3 331.28L357.3 331.24L358.3 331.20L359.3 331.18L360.3 331.16L361.3 331.16L362.3 331.17L363.3 331.18L364.3 331.20L365.3 331.23L366.3 331.26L367.3 331.31L368.3 331.37L369.3 331.47L370.3 331.59L371.3 331.75L372.3 331.92L373.3 332.10L374.3 332.28L375.3 332.46L376.3 332.64L377.3 332.83L378.3 333.01L379.3 333.20L380.3 333.39L381.3 333.58L382.3 333.78L383.3 333.98L384.3 334.17L385.3 334.36L386.3 334.55L387.3 334.73L388.3 334.90L389.3 335.05L390.3 335.17L391.3 335.28L392.3 335.38L393.3 335.47L394.3 335.56L395.3 335.64L396.3 335.73L397.3 335.80L398.3 335.87L399.3 335.94L400.3 336.01L401.3 336.08L402.3 336.16L403.3 336.26L404.3 336.37L405.3 336.49L406.3 336.62L407.3 336.76L408.3 336.90L409.3 337.05L410.3 337.22L411.3 337.39L412.3 337.57L413.3 337.74L414.3 337.92L415.3 338.08L416.3 338.24L417.3 338.38L418.3 338.51L419.3 338.62L420.3 338.73L421.3 338.83L422.3 338.94L423.3 339.06L424.3 339.20L425.3 339.35L426.3 339.51L427.3 339.68L428.3 339.85L429.3 340.02L430.3 340.20L431.3 340.37L432.3 340.54L433.3 340.70L434.3 340.86L435.3 341.02L436.3 341.18L437.3 341.34L438.3 341.49L439.3 341.65L440.3 341.80L441.3 341.94L442.3 342.08L443.3 342.22L444.3 342.35L445.3 342.47L446.3 342.59L447.3 342.71L448.3 342.82L449.3 342.93L450.3 343.03L451.3 343.13L452.3 343.23L453.3 343.32L454.3 343.41L455.3 343.50L456.3 343.60L457.3 343.69L458.3 343.80L459.3 343.91L460.3 344.02L461.3 344.14L462.3 344.26L463.3 344.38L464.3 344.50L465.3 344.63L466.3 344.75L467.3 344.88L468.3 345.01L469.3 345.15L470.3 345.29L471.3 345.43L472.3 345.57L473.3 345.70L474.3 345.82L475.3 345.92L476.3 346.01L477.3 346.10L478.3 346.17L478.7 346.20L478.7 346.87L196.3 346.87Z" fill="url(#gx)" opacity="0.65"/>
<g clip-path="url(#c9)" fill="url(#gx)"><use href="#se"/><use href="#so"/></g>
<path d="M196.3 346.20L197.3 346.15L198.3 346.11L199.3 346.05L200.3 346.00L201.3 345.94L202.3 345.87L203.3 345.80L204.3 345.72L205.3 345.64L206.3 345.54L207.3 345.44L208.3 345.33L209.3 345.22L210.3 345.10L211.3 344.99L212.3 344.87L213.3 344.76L214.3 344.64L215.3 344.53L216.3 344.42L217.3 344.31L218.3 344.20L219.3 344.09L220.3 343.99L221.3 343.88L222.3 343.78L223.3 343.67L224.3 343.56L225.3 343.46L226.3 343.36L227.3 343.26L228.3 343.16L229.3 343.06L230.3 342.97L231.3 342.88L232.3 342.79L233.3 342.71L234.3 342.62L235.3 342.54L236.3 342.45L237.3 342.37L238.3 342.28L239.3 342.20L240.3 342.12L241.3 342.03L242.3 341.95L243.3 341.87L244.3 341.79L245.3 341.71L246.3 341.63L247.3 341.55L248.3 341.47L249.3 341.39L250.3 341.31L251.3 341.23L252.3 341.15L253.3 341.05L254.3 340.93L255.3 340.80L256.3 340.66L257.3 340.50L258.3 340.32L259.3 340.14L260.3 339.94L261.3 339.71L262.3 339.46L263.3 339.18L264.3 338.87L265.3 338.53L266.3 338.16L267.3 337.76L268.3 337.36L269.3 336.96L270.3 336.55L271.3 336.13L272.3 335.72L273.3 335.30L274.3 334.88L275.3 334.45L276.3 334.02L277.3 333.59L278.3 333.15L279.3 332.72L280.3 332.29L281.3 331.87L282.3 331.45L283.3 331.04L284.3 330.65L285.3 330.27L286.3 329.92L287.3 329.58L288.3 329.27L289.3 328.98L290.3 328.73L291.3 328.50L292.3 328.31L293.3 328.14L294.3 327.99L295.3 327.86L296.3 327.73L297.3 327.60L298.3 327.47L299.3 327.36L300.3 327.26L301.3 327.17L302.3 327.11L303.3 327.07L304.3 327.07L305.3 327.08L306.3 327.11L307.3 327.16L308.3 327.23L309.3 327.30L310.3 327.37L311.3 327.45L312.3 327.53L313.3 327.63L314.3 327.74L315.3 327.87L316.3 328.03L317.3 328.21L318.3 328.43L319.3 328.67L320.3 328.91L321.3 329.15L322.3 329.40L323.3 329.65L324.3 329.89L325.3 330.13L326.3 330.37L327.3 330.60L328.3 330.83L329.3 331.06L330.3 331.29L331.3 331.51L332.3 331.72L333.3 331.91L334.3 332.06L335.3 332.17L336.3 332.24L337.3 332.28L338.3 332.30L339.3 332.30L340.3 332.29L341.3 332.27L342.3 332.25L343.3 332.22L344.3 332.18L345.3 332.14L346.3 332.08L347.3 332.03L348.3 331.96L349.3 331.88L350.3 331.79L351.3 331.70L352.3 331.60L353.3 331.51L354.3 331.42L355.3 331.34L356.3 331.28L357.3 331.24L358.3 331.20L359.3 331.18L360.3 331.16L361.3 331.16L362.3 331.17L363.3 331.18L364.3 331.20L365.3 331.23L366.3 331.26L367.3 331.31L368.3 331.37L369.3 331.47L370.3 331.59L371.3 331.75L372.3 331.92L373.3 332.10L374.3 332.28L375.3 332.46L376.3 332.64L377.3 332.83L378.3 333.01L379.3 333.20L380.3 333.39L381.3 333.58L382.3 333.78L383.3 333.98L384.3 334.17L385.3 334.36L386.3 334.55L387.3 334.73L388.3 334.90L389.3 335.05L390.3 335.17L391.3 335.28L392.3 335.38L393.3 335.47L394.3 335.56L395.3 335.64L396.3 335.73L397.3 335.80L398.3 335.87L399.3 335.94L400.3 336.01L401.3 336.08L402.3 336.16L403.3 336.26L404.3 336.37L405.3 336.49L406.3 336.62L407.3 336.76L408.3 336.90L409.3 337.05L410.3 337.22L411.3 337.39L412.3 337.57L413.3 337.74L414.3 337.92L415.3 338.08L416.3 338.24L417.3 338.38L418.3 338.51L419.3 338.62L420.3 338.73L421.3 338.83L422.3 338.94L423.3 339.06L424.3 339.20L425.3 339.35L426.3 339.51L427.3 339.68L428.3 339.85L429.3 340.02L430.3 340.20L431.3 340.37L432.3 340.54L433.3 340.70L434.3 340.86L435.3 341.02L436.3 341.18L437.3 341.34L438.3 341.49L439.3 341.65L440.3 341.80L441.3 341.94L442.3 342.08L443.3 342.22L444.3 342.35L445.3 342.47L446.3 342.59L447.3 342.71L448.3 342.82L449.3 342.93L450.3 343.03L451.3 343.13L452.3 343.23L453.3 343.32L454.3 343.41L455.3 343.50L456.3 343.60L457.3 343.69L458.3 343.80L459.3 343.91L460.3 344.02L461.3 344.14L462.3 344.26L463.3 344.38L464.3 344.50L465.3 344.63L466.3 344.75L467.3 344.88L468.3 345.01L469.3 345.15L470.3 345.29L471.3 345.43L472.3 345.57L473.3 345.70L474.3 345.82L475.3 345.92L476.3 346.01L477.3 346.10L478.3 346.17L478.7 346.20" fill="none" stroke="#000000" stroke-width="1.45" stroke-linejoin="round"/>
<path d="M156.3 381.20L157.3 381.13L158.3 381.06L159.3 381.00L160.3 380.93L161.3 380.86L162.3 380.80L163.3 380.73L164.3 380.67L165.3 380.60L166.3 380.54L167.3 380.47L168.3 380.41L169.3 380.35L170.3 380.28L171.3 380.22L172.3 380.16L173.3 380.10L174.3 380.04L175.3 379.99L176.3 379.93L177.3 379.87L178.3 379.82L179.3 379.76L180.3 379.70L181.3 379.63L182.3 379.57L183.3 379.50L184.3 379.43L185.3 379.35L186.3 379.27L187.3 379.18L188.3 379.10L189.3 379.01L190.3 378.91L191.3 378.82L192.3 378.72L193.3 378.63L194.3 378.53L195.3 378.43L196.3 378.34L197.3 378.24L198.3 378.15L199.3 378.05L200.3 377.95L201.3 377.85L202.3 377.75L203.3 377.65L204.3 377.54L205.3 377.44L206.3 377.34L207.3 377.24L208.3 377.14L209.3 377.03L210.3 376.92L211.3 376.80L212.3 376.66L213.3 376.50L214.3 376.30L215.3 376.07L216.3 375.80L217.3 375.52L218.3 375.24L219.3 374.97L220.3 374.73L221.3 374.50L222.3 374.26L223.3 374.02L224.3 373.79L225.3 373.57L226.3 373.36L227.3 373.17L228.3 373.00L229.3 372.84L230.3 372.69L231.3 372.55L232.3 372.40L233.3 372.26L234.3 372.12L235.3 371.99L236.3 371.85L237.3 371.72L238.3 371.59L239.3 371.45L240.3 371.32L241.3 371.19L242.3 371.06L243.3 370.93L244.3 370.79L245.3 370.66L246.3 370.52L247.3 370.37L248.3 370.22L249.3 370.07L250.3 369.92L251.3 369.76L252.3 369.61L253.3 369.44L254.3 369.23L255.3 368.96L256.3 368.59L257.3 368.11L258.3 367.56L259.3 366.96L260.3 366.33L261.3 365.71L262.3 365.08L263.3 364.42L264.3 363.76L265.3 363.13L266.3 362.53L267.3 362.02L268.3 361.61L269.3 361.27L270.3 360.98L271.3 360.73L272.3 360.53L273.3 360.39L274.3 360.30L275.3 360.28L276.3 360.32L277.3 360.39L278.3 360.50L279.3 360.68L280.3 360.95L281.3 361.32L282.3 361.74L283.3 362.16L284.3 362.59L285.3 363.01L286.3 363.42L287.3 363.83L288.3 364.23L289.3 364.63L290.3 365.03L291.3 365.41L292.3 365.76L293.3 366.07L294.3 366.33L295.3 366.56L296.3 366.76L297.3 366.93L298.3 367.08L299.3 367.21L300.3 367.33L301.3 367.41L302.3 367.48L303.3 367.53L304.3 367.57L305.3 367.61L306.3 367.65L307.3 367.69L308.3 367.72L309.3 367.75L310.3 367.78L311.3 367.79L312.3 367.80L313.3 367.80L314.3 367.80L315.3 367.80L316.3 367.80L317.3 367.80L318.3 367.80L319.3 367.80L320.3 367.80L321.3 367.80L322.3 367.80L323.3 367.80L324.3 367.80L325.3 367.80L326.3 367.80L327.3 367.80L328.3 367.80L329.3 367.80L330.3 367.80L331.3 367.80L332.3 367.80L333.3 367.80L334.3 367.80L335.3 367.80L336.3 367.80L337.3 367.80L338.3 367.80L339.3 367.80L340.3 367.81L341.3 367.82L342.3 367.85L343.3 367.89L344.3 367.94L345.3 368.00L346.3 368.06L347.3 368.13L348.3 368.21L349.3 368.30L350.3 368.39L351.3 368.48L352.3 368.57L353.3 368.66L354.3 368.75L355.3 368.84L356.3 368.93L357.3 369.02L358.3 369.11L359.3 369.20L360.3 369.29L361.3 369.38L362.3 369.47L363.3 369.56L364.3 369.65L365.3 369.73L366.3 369.82L367.3 369.91L368.3 370.00L369.3 370.08L370.3 370.15L371.3 370.21L372.3 370.26L373.3 370.31L374.3 370.36L375.3 370.42L376.3 370.47L377.3 370.54L378.3 370.61L379.3 370.68L380.3 370.75L381.3 370.84L382.3 370.94L383.3 371.06L384.3 371.19L385.3 371.35L386.3 371.53L387.3 371.74L388.3 371.97L389.3 372.22L390.3 372.48L391.3 372.75L392.3 373.02L393.3 373.30L394.3 373.58L395.3 373.87L396.3 374.16L397.3 374.45L398.3 374.74L399.3 375.03L400.3 375.32L401.3 375.59L402.3 375.86L403.3 376.12L404.3 376.37L405.3 376.62L406.3 376.86L407.3 377.10L408.3 377.32L409.3 377.55L410.3 377.76L411.3 377.97L412.3 378.17L413.3 378.37L414.3 378.55L415.3 378.72L416.3 378.89L417.3 379.05L418.3 379.20L419.3 379.34L420.3 379.48L421.3 379.61L422.3 379.74L423.3 379.85L424.3 379.97L425.3 380.07L426.3 380.16L427.3 380.25L428.3 380.34L429.3 380.42L430.3 380.49L431.3 380.57L432.3 380.64L433.3 380.70L434.3 380.76L435.3 380.82L436.3 380.87L437.3 380.92L438.3 380.97L439.3 381.01L440.3 381.05L441.3 381.09L442.3 381.13L443.3 381.16L444.3 381.19L444.7 381.20L444.7 382.04L156.3 382.04Z" fill="url(#gx)" opacity="0.65"/>
<g clip-path="url(#c10)" fill="url(#gx)"><use href="#se"/><use href="#so"/></g>
<path d="M156.3 381.20L157.3 381.13L158.3 381.06L159.3 381.00L160.3 380.93L161.3 380.86L162.3 380.80L163.3 380.73L164.3 380.67L165.3 380.60L166.3 380.54L167.3 380.47L168.3 380.41L169.3 380.35L170.3 380.28L171.3 380.22L172.3 380.16L173.3 380.10L174.3 380.04L175.3 379.99L176.3 379.93L177.3 379.87L178.3 379.82L179.3 379.76L180.3 379.70L181.3 379.63L182.3 379.57L183.3 379.50L184.3 379.43L185.3 379.35L186.3 379.27L187.3 379.18L188.3 379.10L189.3 379.01L190.3 378.91L191.3 378.82L192.3 378.72L193.3 378.63L194.3 378.53L195.3 378.43L196.3 378.34L197.3 378.24L198.3 378.15L199.3 378.05L200.3 377.95L201.3 377.85L202.3 377.75L203.3 377.65L204.3 377.54L205.3 377.44L206.3 377.34L207.3 377.24L208.3 377.14L209.3 377.03L210.3 376.92L211.3 376.80L212.3 376.66L213.3 376.50L214.3 376.30L215.3 376.07L216.3 375.80L217.3 375.52L218.3 375.24L219.3 374.97L220.3 374.73L221.3 374.50L222.3 374.26L223.3 374.02L224.3 373.79L225.3 373.57L226.3 373.36L227.3 373.17L228.3 373.00L229.3 372.84L230.3 372.69L231.3 372.55L232.3 372.40L233.3 372.26L234.3 372.12L235.3 371.99L236.3 371.85L237.3 371.72L238.3 371.59L239.3 371.45L240.3 371.32L241.3 371.19L242.3 371.06L243.3 370.93L244.3 370.79L245.3 370.66L246.3 370.52L247.3 370.37L248.3 370.22L249.3 370.07L250.3 369.92L251.3 369.76L252.3 369.61L253.3 369.44L254.3 369.23L255.3 368.96L256.3 368.59L257.3 368.11L258.3 367.56L259.3 366.96L260.3 366.33L261.3 365.71L262.3 365.08L263.3 364.42L264.3 363.76L265.3 363.13L266.3 362.53L267.3 362.02L268.3 361.61L269.3 361.27L270.3 360.98L271.3 360.73L272.3 360.53L273.3 360.39L274.3 360.30L275.3 360.28L276.3 360.32L277.3 360.39L278.3 360.50L279.3 360.68L280.3 360.95L281.3 361.32L282.3 361.74L283.3 362.16L284.3 362.59L285.3 363.01L286.3 363.42L287.3 363.83L288.3 364.23L289.3 364.63L290.3 365.03L291.3 365.41L292.3 365.76L293.3 366.07L294.3 366.33L295.3 366.56L296.3 366.76L297.3 366.93L298.3 367.08L299.3 367.21L300.3 367.33L301.3 367.41L302.3 367.48L303.3 367.53L304.3 367.57L305.3 367.61L306.3 367.65L307.3 367.69L308.3 367.72L309.3 367.75L310.3 367.78L311.3 367.79L312.3 367.80L313.3 367.80L314.3 367.80L315.3 367.80L316.3 367.80L317.3 367.80L318.3 367.80L319.3 367.80L320.3 367.80L321.3 367.80L322.3 367.80L323.3 367.80L324.3 367.80L325.3 367.80L326.3 367.80L327.3 367.80L328.3 367.80L329.3 367.80L330.3 367.80L331.3 367.80L332.3 367.80L333.3 367.80L334.3 367.80L335.3 367.80L336.3 367.80L337.3 367.80L338.3 367.80L339.3 367.80L340.3 367.81L341.3 367.82L342.3 367.85L343.3 367.89L344.3 367.94L345.3 368.00L346.3 368.06L347.3 368.13L348.3 368.21L349.3 368.30L350.3 368.39L351.3 368.48L352.3 368.57L353.3 368.66L354.3 368.75L355.3 368.84L356.3 368.93L357.3 369.02L358.3 369.11L359.3 369.20L360.3 369.29L361.3 369.38L362.3 369.47L363.3 369.56L364.3 369.65L365.3 369.73L366.3 369.82L367.3 369.91L368.3 370.00L369.3 370.08L370.3 370.15L371.3 370.21L372.3 370.26L373.3 370.31L374.3 370.36L375.3 370.42L376.3 370.47L377.3 370.54L378.3 370.61L379.3 370.68L380.3 370.75L381.3 370.84L382.3 370.94L383.3 371.06L384.3 371.19L385.3 371.35L386.3 371.53L387.3 371.74L388.3 371.97L389.3 372.22L390.3 372.48L391.3 372.75L392.3 373.02L393.3 373.30L394.3 373.58L395.3 373.87L396.3 374.16L397.3 374.45L398.3 374.74L399.3 375.03L400.3 375.32L401.3 375.59L402.3 375.86L403.3 376.12L404.3 376.37L405.3 376.62L406.3 376.86L407.3 377.10L408.3 377.32L409.3 377.55L410.3 377.76L411.3 377.97L412.3 378.17L413.3 378.37L414.3 378.55L415.3 378.72L416.3 378.89L417.3 379.05L418.3 379.20L419.3 379.34L420.3 379.48L421.3 379.61L422.3 379.74L423.3 379.85L424.3 379.97L425.3 380.07L426.3 380.16L427.3 380.25L428.3 380.34L429.3 380.42L430.3 380.49L431.3 380.57L432.3 380.64L433.3 380.70L434.3 380.76L435.3 380.82L436.3 380.87L437.3 380.92L438.3 380.97L439.3 381.01L440.3 381.05L441.3 381.09L442.3 381.13L443.3 381.16L444.3 381.19L444.7 381.20" fill="none" stroke="#000000" stroke-width="1.45" stroke-linejoin="round"/>
<path d="M165.3 416.50L166.3 416.46L167.3 416.41L168.3 416.37L169.3 416.33L170.3 416.28L171.3 416.23L172.3 416.18L173.3 416.14L174.3 416.09L175.3 416.04L176.3 415.99L177.3 415.94L178.3 415.89L179.3 415.84L180.3 415.78L181.3 415.73L182.3 415.68L183.3 415.63L184.3 415.57L185.3 415.52L186.3 415.46L187.3 415.40L188.3 415.34L189.3 415.28L190.3 415.21L191.3 415.14L192.3 415.07L193.3 415.00L194.3 414.92L195.3 414.83L196.3 414.74L197.3 414.64L198.3 414.54L199.3 414.44L200.3 414.33L201.3 414.22L202.3 414.11L203.3 414.00L204.3 413.89L205.3 413.78L206.3 413.66L207.3 413.54L208.3 413.42L209.3 413.30L210.3 413.18L211.3 413.05L212.3 412.93L213.3 412.80L214.3 412.67L215.3 412.53L216.3 412.38L217.3 412.23L218.3 412.07L219.3 411.90L220.3 411.73L221.3 411.56L222.3 411.38L223.3 411.20L224.3 411.01L225.3 410.81L226.3 410.60L227.3 410.37L228.3 410.13L229.3 409.88L230.3 409.61L231.3 409.32L232.3 409.02L233.3 408.70L234.3 408.38L235.3 408.04L236.3 407.70L237.3 407.35L238.3 407.00L239.3 406.64L240.3 406.26L241.3 405.87L242.3 405.48L243.3 405.10L244.3 404.74L245.3 404.40L246.3 404.09L247.3 403.79L248.3 403.51L249.3 403.25L250.3 403.01L251.3 402.78L252.3 402.57L253.3 402.37L254.3 402.16L255.3 401.95L256.3 401.74L257.3 401.53L258.3 401.32L259.3 401.11L260.3 400.90L261.3 400.69L262.3 400.48L263.3 400.27L264.3 400.06L265.3 399.85L266.3 399.64L267.3 399.42L268.3 399.21L269.3 399.00L270.3 398.80L271.3 398.62L272.3 398.46L273.3 398.32L274.3 398.19L275.3 398.08L276.3 397.97L277.3 397.88L278.3 397.81L279.3 397.77L280.3 397.75L281.3 397.75L282.3 397.78L283.3 397.83L284.3 397.89L285.3 397.96L286.3 398.04L287.3 398.12L288.3 398.20L289.3 398.30L290.3 398.40L291.3 398.51L292.3 398.62L293.3 398.73L294.3 398.84L295.3 398.95L296.3 399.06L297.3 399.16L298.3 399.25L299.3 399.33L300.3 399.39L301.3 399.45L302.3 399.51L303.3 399.57L304.3 399.64L305.3 399.73L306.3 399.83L307.3 399.96L308.3 400.08L309.3 400.22L310.3 400.36L311.3 400.50L312.3 400.64L313.3 400.79L314.3 400.94L315.3 401.09L316.3 401.25L317.3 401.40L318.3 401.55L319.3 401.70L320.3 401.83L321.3 401.95L322.3 402.05L323.3 402.12L324.3 402.18L325.3 402.20L326.3 402.20L327.3 402.16L328.3 402.10L329.3 402.03L330.3 401.95L331.3 401.88L332.3 401.82L333.3 401.78L334.3 401.74L335.3 401.70L336.3 401.68L337.3 401.67L338.3 401.67L339.3 401.70L340.3 401.76L341.3 401.84L342.3 401.95L343.3 402.08L344.3 402.22L345.3 402.38L346.3 402.55L347.3 402.73L348.3 402.91L349.3 403.10L350.3 403.28L351.3 403.46L352.3 403.63L353.3 403.80L354.3 403.96L355.3 404.12L356.3 404.27L357.3 404.43L358.3 404.59L359.3 404.75L360.3 404.92L361.3 405.09L362.3 405.27L363.3 405.45L364.3 405.62L365.3 405.79L366.3 405.94L367.3 406.08L368.3 406.18L369.3 406.26L370.3 406.32L371.3 406.36L372.3 406.40L373.3 406.43L374.3 406.47L375.3 406.51L376.3 406.56L377.3 406.59L378.3 406.62L379.3 406.65L380.3 406.68L381.3 406.71L382.3 406.75L383.3 406.80L384.3 406.87L385.3 406.96L386.3 407.07L387.3 407.22L388.3 407.41L389.3 407.62L390.3 407.88L391.3 408.15L392.3 408.43L393.3 408.71L394.3 409.00L395.3 409.29L396.3 409.58L397.3 409.88L398.3 410.18L399.3 410.49L400.3 410.80L401.3 411.11L402.3 411.41L403.3 411.70L404.3 411.98L405.3 412.24L406.3 412.48L407.3 412.72L408.3 412.94L409.3 413.15L410.3 413.36L411.3 413.56L412.3 413.76L413.3 413.95L414.3 414.12L415.3 414.29L416.3 414.44L417.3 414.58L418.3 414.72L419.3 414.85L420.3 414.98L421.3 415.10L422.3 415.22L423.3 415.33L424.3 415.43L425.3 415.53L426.3 415.63L427.3 415.72L428.3 415.81L429.3 415.90L430.3 415.98L431.3 416.06L432.3 416.13L433.3 416.20L434.3 416.26L435.3 416.32L436.3 416.37L437.3 416.42L438.3 416.46L439.3 416.49L439.5 416.50L439.5 417.20L165.3 417.20Z" fill="url(#gx)" opacity="0.65"/>
<g clip-path="url(#c11)" fill="url(#gx)"><use href="#se"/><use href="#so"/></g>
<path d="M165.3 416.50L166.3 416.46L167.3 416.41L168.3 416.37L169.3 416.33L170.3 416.28L171.3 416.23L172.3 416.18L173.3 416.14L174.3 416.09L175.3 416.04L176.3 415.99L177.3 415.94L178.3 415.89L179.3 415.84L180.3 415.78L181.3 415.73L182.3 415.68L183.3 415.63L184.3 415.57L185.3 415.52L186.3 415.46L187.3 415.40L188.3 415.34L189.3 415.28L190.3 415.21L191.3 415.14L192.3 415.07L193.3 415.00L194.3 414.92L195.3 414.83L196.3 414.74L197.3 414.64L198.3 414.54L199.3 414.44L200.3 414.33L201.3 414.22L202.3 414.11L203.3 414.00L204.3 413.89L205.3 413.78L206.3 413.66L207.3 413.54L208.3 413.42L209.3 413.30L210.3 413.18L211.3 413.05L212.3 412.93L213.3 412.80L214.3 412.67L215.3 412.53L216.3 412.38L217.3 412.23L218.3 412.07L219.3 411.90L220.3 411.73L221.3 411.56L222.3 411.38L223.3 411.20L224.3 411.01L225.3 410.81L226.3 410.60L227.3 410.37L228.3 410.13L229.3 409.88L230.3 409.61L231.3 409.32L232.3 409.02L233.3 408.70L234.3 408.38L235.3 408.04L236.3 407.70L237.3 407.35L238.3 407.00L239.3 406.64L240.3 406.26L241.3 405.87L242.3 405.48L243.3 405.10L244.3 404.74L245.3 404.40L246.3 404.09L247.3 403.79L248.3 403.51L249.3 403.25L250.3 403.01L251.3 402.78L252.3 402.57L253.3 402.37L254.3 402.16L255.3 401.95L256.3 401.74L257.3 401.53L258.3 401.32L259.3 401.11L260.3 400.90L261.3 400.69L262.3 400.48L263.3 400.27L264.3 400.06L265.3 399.85L266.3 399.64L267.3 399.42L268.3 399.21L269.3 399.00L270.3 398.80L271.3 398.62L272.3 398.46L273.3 398.32L274.3 398.19L275.3 398.08L276.3 397.97L277.3 397.88L278.3 397.81L279.3 397.77L280.3 397.75L281.3 397.75L282.3 397.78L283.3 397.83L284.3 397.89L285.3 397.96L286.3 398.04L287.3 398.12L288.3 398.20L289.3 398.30L290.3 398.40L291.3 398.51L292.3 398.62L293.3 398.73L294.3 398.84L295.3 398.95L296.3 399.06L297.3 399.16L298.3 399.25L299.3 399.33L300.3 399.39L301.3 399.45L302.3 399.51L303.3 399.57L304.3 399.64L305.3 399.73L306.3 399.83L307.3 399.96L308.3 400.08L309.3 400.22L310.3 400.36L311.3 400.50L312.3 400.64L313.3 400.79L314.3 400.94L315.3 401.09L316.3 401.25L317.3 401.40L318.3 401.55L319.3 401.70L320.3 401.83L321.3 401.95L322.3 402.05L323.3 402.12L324.3 402.18L325.3 402.20L326.3 402.20L327.3 402.16L328.3 402.10L329.3 402.03L330.3 401.95L331.3 401.88L332.3 401.82L333.3 401.78L334.3 401.74L335.3 401.70L336.3 401.68L337.3 401.67L338.3 401.67L339.3 401.70L340.3 401.76L341.3 401.84L342.3 401.95L343.3 402.08L344.3 402.22L345.3 402.38L346.3 402.55L347.3 402.73L348.3 402.91L349.3 403.10L350.3 403.28L351.3 403.46L352.3 403.63L353.3 403.80L354.3 403.96L355.3 404.12L356.3 404.27L357.3 404.43L358.3 404.59L359.3 404.75L360.3 404.92L361.3 405.09L362.3 405.27L363.3 405.45L364.3 405.62L365.3 405.79L366.3 405.94L367.3 406.08L368.3 406.18L369.3 406.26L370.3 406.32L371.3 406.36L372.3 406.40L373.3 406.43L374.3 406.47L375.3 406.51L376.3 406.56L377.3 406.59L378.3 406.62L379.3 406.65L380.3 406.68L381.3 406.71L382.3 406.75L383.3 406.80L384.3 406.87L385.3 406.96L386.3 407.07L387.3 407.22L388.3 407.41L389.3 407.62L390.3 407.88L391.3 408.15L392.3 408.43L393.3 408.71L394.3 409.00L395.3 409.29L396.3 409.58L397.3 409.88L398.3 410.18L399.3 410.49L400.3 410.80L401.3 411.11L402.3 411.41L403.3 411.70L404.3 411.98L405.3 412.24L406.3 412.48L407.3 412.72L408.3 412.94L409.3 413.15L410.3 413.36L411.3 413.56L412.3 413.76L413.3 413.95L414.3 414.12L415.3 414.29L416.3 414.44L417.3 414.58L418.3 414.72L419.3 414.85L420.3 414.98L421.3 415.10L422.3 415.22L423.3 415.33L424.3 415.43L425.3 415.53L426.3 415.63L427.3 415.72L428.3 415.81L429.3 415.90L430.3 415.98L431.3 416.06L432.3 416.13L433.3 416.20L434.3 416.26L435.3 416.32L436.3 416.37L437.3 416.42L438.3 416.46L439.3 416.49L439.5 416.50" fill="none" stroke="#000000" stroke-width="1.45" stroke-linejoin="round"/>
</g>
<path d="M87.33 30.15H91.0M87.33 65.31H91.0M87.33 100.48H91.0M87.33 135.64H91.0M87.33 170.80H91.0M87.33 205.97H91.0M87.33 241.13H91.0M87.33 276.30H91.0M87.33 311.46H91.0M87.33 346.62H91.0M87.33 381.79H91.0M87.33 416.95H91.0M157.50 437.9v3.67M248.60 437.9v3.67M339.70 437.9v3.67M430.80 437.9v3.67M521.90 437.9v3.67" stroke="#262626" stroke-width="1.35" fill="none"/>
<g font-size="11.62" fill="#3C3C3C">
<text x="84.1" y="34.65" text-anchor="end">1993-12-01</text>
<text x="84.1" y="69.81" text-anchor="end">1993-11-01</text>
<text x="84.1" y="104.98" text-anchor="end">1993-10-01</text>
<text x="84.1" y="140.14" text-anchor="end">1993-09-01</text>
<text x="84.1" y="175.30" text-anchor="end">1993-08-02</text>
<text x="84.1" y="210.47" text-anchor="end">1993-07-02</text>
<text x="84.1" y="245.63" text-anchor="end">1993-06-02</text>
<text x="84.1" y="280.80" text-anchor="end">1993-05-03</text>
<text x="84.1" y="315.96" text-anchor="end">1993-04-02</text>
<text x="84.1" y="351.12" text-anchor="end">1993-03-03</text>
<text x="84.1" y="386.29" text-anchor="end">1993-02-01</text>
<text x="84.1" y="421.45" text-anchor="end">1993-01-01</text>
<text x="157.50" y="452.6" text-anchor="middle">0</text>
<text x="248.60" y="452.6" text-anchor="middle">25</text>
<text x="339.70" y="452.6" text-anchor="middle">50</text>
<text x="430.80" y="452.6" text-anchor="middle">75</text>
<text x="521.90" y="452.6" text-anchor="middle">100</text>
</g>
<text x="341.5" y="469.7" font-size="14.67" text-anchor="middle" fill="#000000">Value</text>
<text transform="translate(17.3 222.5) rotate(-90)" font-size="14.67" text-anchor="middle" fill="#000000">Group Intervals</text>
<text x="614" y="166.7" font-size="14.67" fill="#000000">z</text>
<rect x="614" y="175.3" width="23.04" height="115.2" fill="url(#gy)"/>
<text x="644.4" y="284.44" font-size="11.62" fill="#000000">0</text>
<text x="644.4" y="256.79" font-size="11.62" fill="#000000">30</text>
<text x="644.4" y="229.14" font-size="11.62" fill="#000000">60</text>
<text x="644.4" y="201.50" font-size="11.62" fill="#000000">90</text>
<path d="M614 279.44h4.6M637.04 279.44h-4.6M614 251.79h4.6M637.04 251.79h-4.6M614 224.14h4.6M637.04 224.14h-4.6M614 196.50h4.6M637.04 196.50h-4.6" stroke="#FFFFFF" stroke-width="0.53" fill="none"/>
</svg>
</body></html>
